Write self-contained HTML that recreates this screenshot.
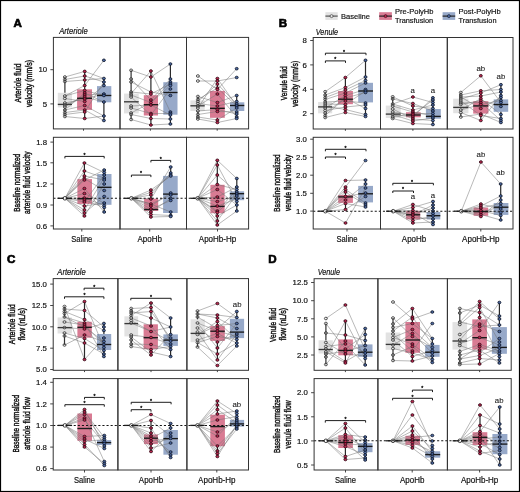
<!DOCTYPE html>
<html><head><meta charset="utf-8"><style>
html,body{margin:0;padding:0;background:#fff;}
svg{display:block;will-change:transform;}
</style></head><body>
<svg width="520" height="492" viewBox="0 0 520 492" font-family='"Liberation Sans", sans-serif'><rect x="0" y="0" width="520" height="492" fill="#fff"/><rect x="57.80" y="92.80" width="14.20" height="14.60" fill="#e2e2e2"/><rect x="77.10" y="89.30" width="14.90" height="20.60" fill="#d97b93"/><rect x="97.00" y="86.10" width="14.30" height="16.20" fill="#97a9c9"/><path d="M64.9,77.0L84.7,71.4L103.9,78.5M64.9,79.5L84.7,76.0L103.9,82.0M64.9,81.5L84.7,80.0L103.9,78.5M64.9,96.0L84.7,85.5L103.9,60.3M64.9,96.0L84.7,90.5L103.9,95.5M64.9,98.5L84.7,101.5L103.9,85.5M64.9,103.0L84.7,99.0L103.9,94.0M64.9,105.0L84.7,97.0L103.9,102.0M64.9,107.0L84.7,95.0L103.9,94.0M64.9,110.0L84.7,93.0L103.9,102.0M64.9,110.0L84.7,105.5L103.9,116.0M64.9,112.5L84.7,110.0L103.9,120.5M64.9,114.5L84.7,112.0L103.9,82.0M64.9,116.5L84.7,118.5L103.9,116.0" fill="none" stroke="#747474" stroke-width="0.6" stroke-opacity="0.85"/><line x1="64.90" y1="77.00" x2="64.90" y2="92.80" stroke="#333" stroke-width="1.2" /><line x1="64.90" y1="107.40" x2="64.90" y2="116.50" stroke="#333" stroke-width="1.2" /><line x1="57.80" y1="104.40" x2="72.00" y2="104.40" stroke="#3a3a3a" stroke-width="1.35" /><line x1="84.70" y1="71.40" x2="84.70" y2="89.30" stroke="#2a2a2a" stroke-width="1.2" /><line x1="84.70" y1="109.90" x2="84.70" y2="118.50" stroke="#2a2a2a" stroke-width="1.2" /><line x1="77.10" y1="98.30" x2="92.00" y2="98.30" stroke="#1a1a1a" stroke-width="1.35" /><line x1="103.90" y1="78.50" x2="103.90" y2="86.10" stroke="#2a2a2a" stroke-width="1.2" /><line x1="103.90" y1="102.30" x2="103.90" y2="120.50" stroke="#2a2a2a" stroke-width="1.2" /><line x1="97.00" y1="95.50" x2="111.30" y2="95.50" stroke="#1a1a1a" stroke-width="1.35" /><ellipse cx="64.90" cy="77.00" rx="1.5" ry="1.32" fill="#e6e6e6" fill-opacity="0.25" stroke="#2e2e2e" stroke-width="0.8"/><ellipse cx="64.90" cy="79.50" rx="1.5" ry="1.32" fill="#e6e6e6" fill-opacity="0.25" stroke="#2e2e2e" stroke-width="0.8"/><ellipse cx="64.90" cy="81.50" rx="1.5" ry="1.32" fill="#e6e6e6" fill-opacity="0.25" stroke="#2e2e2e" stroke-width="0.8"/><ellipse cx="64.90" cy="96.00" rx="1.5" ry="1.32" fill="#e6e6e6" fill-opacity="0.25" stroke="#2e2e2e" stroke-width="0.8"/><ellipse cx="64.90" cy="98.50" rx="1.5" ry="1.32" fill="#e6e6e6" fill-opacity="0.25" stroke="#2e2e2e" stroke-width="0.8"/><ellipse cx="64.90" cy="103.00" rx="1.5" ry="1.32" fill="#e6e6e6" fill-opacity="0.25" stroke="#2e2e2e" stroke-width="0.8"/><ellipse cx="64.90" cy="105.00" rx="1.5" ry="1.32" fill="#e6e6e6" fill-opacity="0.25" stroke="#2e2e2e" stroke-width="0.8"/><ellipse cx="64.90" cy="107.00" rx="1.5" ry="1.32" fill="#e6e6e6" fill-opacity="0.25" stroke="#2e2e2e" stroke-width="0.8"/><ellipse cx="64.90" cy="110.00" rx="1.5" ry="1.32" fill="#e6e6e6" fill-opacity="0.25" stroke="#2e2e2e" stroke-width="0.8"/><ellipse cx="64.90" cy="112.50" rx="1.5" ry="1.32" fill="#e6e6e6" fill-opacity="0.25" stroke="#2e2e2e" stroke-width="0.8"/><ellipse cx="64.90" cy="114.50" rx="1.5" ry="1.32" fill="#e6e6e6" fill-opacity="0.25" stroke="#2e2e2e" stroke-width="0.8"/><ellipse cx="64.90" cy="116.50" rx="1.5" ry="1.32" fill="#e6e6e6" fill-opacity="0.25" stroke="#2e2e2e" stroke-width="0.8"/><ellipse cx="84.70" cy="71.40" rx="1.5" ry="1.32" fill="#bd2850" stroke="#2a0510" stroke-width="0.8"/><ellipse cx="84.70" cy="76.00" rx="1.5" ry="1.32" fill="#bd2850" stroke="#2a0510" stroke-width="0.8"/><ellipse cx="84.70" cy="80.00" rx="1.5" ry="1.32" fill="#bd2850" stroke="#2a0510" stroke-width="0.8"/><ellipse cx="84.70" cy="85.50" rx="1.5" ry="1.32" fill="#bd2850" stroke="#2a0510" stroke-width="0.8"/><ellipse cx="84.70" cy="90.50" rx="1.5" ry="1.32" fill="#bd2850" stroke="#2a0510" stroke-width="0.8"/><ellipse cx="84.70" cy="93.00" rx="1.5" ry="1.32" fill="#bd2850" stroke="#2a0510" stroke-width="0.8"/><ellipse cx="84.70" cy="95.00" rx="1.5" ry="1.32" fill="#bd2850" stroke="#2a0510" stroke-width="0.8"/><ellipse cx="84.70" cy="97.00" rx="1.5" ry="1.32" fill="#bd2850" stroke="#2a0510" stroke-width="0.8"/><ellipse cx="84.70" cy="99.00" rx="1.5" ry="1.32" fill="#bd2850" stroke="#2a0510" stroke-width="0.8"/><ellipse cx="84.70" cy="101.50" rx="1.5" ry="1.32" fill="#bd2850" stroke="#2a0510" stroke-width="0.8"/><ellipse cx="84.70" cy="105.50" rx="1.5" ry="1.32" fill="#bd2850" stroke="#2a0510" stroke-width="0.8"/><ellipse cx="84.70" cy="110.00" rx="1.5" ry="1.32" fill="#bd2850" stroke="#2a0510" stroke-width="0.8"/><ellipse cx="84.70" cy="112.00" rx="1.5" ry="1.32" fill="#bd2850" stroke="#2a0510" stroke-width="0.8"/><ellipse cx="84.70" cy="118.50" rx="1.5" ry="1.32" fill="#bd2850" stroke="#2a0510" stroke-width="0.8"/><ellipse cx="103.90" cy="60.30" rx="1.5" ry="1.32" fill="#4d69a0" stroke="#0a1225" stroke-width="0.8"/><ellipse cx="103.90" cy="78.50" rx="1.5" ry="1.32" fill="#4d69a0" stroke="#0a1225" stroke-width="0.8"/><ellipse cx="103.90" cy="82.00" rx="1.5" ry="1.32" fill="#4d69a0" stroke="#0a1225" stroke-width="0.8"/><ellipse cx="103.90" cy="85.50" rx="1.5" ry="1.32" fill="#4d69a0" stroke="#0a1225" stroke-width="0.8"/><ellipse cx="103.90" cy="94.00" rx="1.5" ry="1.32" fill="#4d69a0" stroke="#0a1225" stroke-width="0.8"/><ellipse cx="103.90" cy="95.50" rx="1.5" ry="1.32" fill="#4d69a0" stroke="#0a1225" stroke-width="0.8"/><ellipse cx="103.90" cy="102.00" rx="1.5" ry="1.32" fill="#4d69a0" stroke="#0a1225" stroke-width="0.8"/><ellipse cx="103.90" cy="116.00" rx="1.5" ry="1.32" fill="#4d69a0" stroke="#0a1225" stroke-width="0.8"/><ellipse cx="103.90" cy="120.50" rx="1.5" ry="1.32" fill="#4d69a0" stroke="#0a1225" stroke-width="0.8"/><rect x="124.00" y="93.60" width="14.70" height="19.80" fill="#e2e2e2"/><rect x="143.80" y="95.20" width="14.20" height="20.30" fill="#d97b93"/><rect x="163.30" y="82.20" width="14.20" height="32.50" fill="#97a9c9"/><path d="M131.1,70.3L150.9,77.0L170.4,64.0M131.1,79.0L150.9,100.0L170.4,79.0M131.1,82.0L150.9,92.0L170.4,95.5M131.1,92.0L150.9,94.0L170.4,84.0M131.1,93.5L150.9,71.0L170.4,112.0M131.1,95.0L150.9,102.5L170.4,85.5M131.1,97.0L150.9,115.0L170.4,89.0M131.1,106.0L150.9,105.0L170.4,115.0M131.1,108.0L150.9,113.5L170.4,113.5M131.1,113.0L150.9,102.5L170.4,82.0M131.1,114.5L150.9,118.5L170.4,119.0M131.1,119.5L150.9,125.0L170.4,124.0" fill="none" stroke="#747474" stroke-width="0.6" stroke-opacity="0.85"/><line x1="131.10" y1="70.30" x2="131.10" y2="93.60" stroke="#333" stroke-width="1.2" /><line x1="131.10" y1="113.40" x2="131.10" y2="119.50" stroke="#333" stroke-width="1.2" /><line x1="124.00" y1="101.80" x2="138.70" y2="101.80" stroke="#3a3a3a" stroke-width="1.35" /><line x1="150.90" y1="71.00" x2="150.90" y2="95.20" stroke="#2a2a2a" stroke-width="1.2" /><line x1="150.90" y1="115.50" x2="150.90" y2="125.00" stroke="#2a2a2a" stroke-width="1.2" /><line x1="143.80" y1="104.70" x2="158.00" y2="104.70" stroke="#1a1a1a" stroke-width="1.35" /><line x1="170.40" y1="64.00" x2="170.40" y2="82.20" stroke="#2a2a2a" stroke-width="1.2" /><line x1="170.40" y1="114.70" x2="170.40" y2="124.00" stroke="#2a2a2a" stroke-width="1.2" /><line x1="163.30" y1="92.50" x2="177.50" y2="92.50" stroke="#1a1a1a" stroke-width="1.35" /><ellipse cx="131.10" cy="70.30" rx="1.5" ry="1.32" fill="#e6e6e6" fill-opacity="0.25" stroke="#2e2e2e" stroke-width="0.8"/><ellipse cx="131.10" cy="79.00" rx="1.5" ry="1.32" fill="#e6e6e6" fill-opacity="0.25" stroke="#2e2e2e" stroke-width="0.8"/><ellipse cx="131.10" cy="82.00" rx="1.5" ry="1.32" fill="#e6e6e6" fill-opacity="0.25" stroke="#2e2e2e" stroke-width="0.8"/><ellipse cx="131.10" cy="92.00" rx="1.5" ry="1.32" fill="#e6e6e6" fill-opacity="0.25" stroke="#2e2e2e" stroke-width="0.8"/><ellipse cx="131.10" cy="93.50" rx="1.5" ry="1.32" fill="#e6e6e6" fill-opacity="0.25" stroke="#2e2e2e" stroke-width="0.8"/><ellipse cx="131.10" cy="95.00" rx="1.5" ry="1.32" fill="#e6e6e6" fill-opacity="0.25" stroke="#2e2e2e" stroke-width="0.8"/><ellipse cx="131.10" cy="97.00" rx="1.5" ry="1.32" fill="#e6e6e6" fill-opacity="0.25" stroke="#2e2e2e" stroke-width="0.8"/><ellipse cx="131.10" cy="106.00" rx="1.5" ry="1.32" fill="#e6e6e6" fill-opacity="0.25" stroke="#2e2e2e" stroke-width="0.8"/><ellipse cx="131.10" cy="108.00" rx="1.5" ry="1.32" fill="#e6e6e6" fill-opacity="0.25" stroke="#2e2e2e" stroke-width="0.8"/><ellipse cx="131.10" cy="113.00" rx="1.5" ry="1.32" fill="#e6e6e6" fill-opacity="0.25" stroke="#2e2e2e" stroke-width="0.8"/><ellipse cx="131.10" cy="114.50" rx="1.5" ry="1.32" fill="#e6e6e6" fill-opacity="0.25" stroke="#2e2e2e" stroke-width="0.8"/><ellipse cx="131.10" cy="119.50" rx="1.5" ry="1.32" fill="#e6e6e6" fill-opacity="0.25" stroke="#2e2e2e" stroke-width="0.8"/><ellipse cx="150.90" cy="71.00" rx="1.5" ry="1.32" fill="#bd2850" stroke="#2a0510" stroke-width="0.8"/><ellipse cx="150.90" cy="77.00" rx="1.5" ry="1.32" fill="#bd2850" stroke="#2a0510" stroke-width="0.8"/><ellipse cx="150.90" cy="92.00" rx="1.5" ry="1.32" fill="#bd2850" stroke="#2a0510" stroke-width="0.8"/><ellipse cx="150.90" cy="94.00" rx="1.5" ry="1.32" fill="#bd2850" stroke="#2a0510" stroke-width="0.8"/><ellipse cx="150.90" cy="100.00" rx="1.5" ry="1.32" fill="#bd2850" stroke="#2a0510" stroke-width="0.8"/><ellipse cx="150.90" cy="102.50" rx="1.5" ry="1.32" fill="#bd2850" stroke="#2a0510" stroke-width="0.8"/><ellipse cx="150.90" cy="105.00" rx="1.5" ry="1.32" fill="#bd2850" stroke="#2a0510" stroke-width="0.8"/><ellipse cx="150.90" cy="113.50" rx="1.5" ry="1.32" fill="#bd2850" stroke="#2a0510" stroke-width="0.8"/><ellipse cx="150.90" cy="115.00" rx="1.5" ry="1.32" fill="#bd2850" stroke="#2a0510" stroke-width="0.8"/><ellipse cx="150.90" cy="118.50" rx="1.5" ry="1.32" fill="#bd2850" stroke="#2a0510" stroke-width="0.8"/><ellipse cx="150.90" cy="125.00" rx="1.5" ry="1.32" fill="#bd2850" stroke="#2a0510" stroke-width="0.8"/><ellipse cx="170.40" cy="64.00" rx="1.5" ry="1.32" fill="#4d69a0" stroke="#0a1225" stroke-width="0.8"/><ellipse cx="170.40" cy="79.00" rx="1.5" ry="1.32" fill="#4d69a0" stroke="#0a1225" stroke-width="0.8"/><ellipse cx="170.40" cy="82.00" rx="1.5" ry="1.32" fill="#4d69a0" stroke="#0a1225" stroke-width="0.8"/><ellipse cx="170.40" cy="84.00" rx="1.5" ry="1.32" fill="#4d69a0" stroke="#0a1225" stroke-width="0.8"/><ellipse cx="170.40" cy="85.50" rx="1.5" ry="1.32" fill="#4d69a0" stroke="#0a1225" stroke-width="0.8"/><ellipse cx="170.40" cy="89.00" rx="1.5" ry="1.32" fill="#4d69a0" stroke="#0a1225" stroke-width="0.8"/><ellipse cx="170.40" cy="95.50" rx="1.5" ry="1.32" fill="#4d69a0" stroke="#0a1225" stroke-width="0.8"/><ellipse cx="170.40" cy="112.00" rx="1.5" ry="1.32" fill="#4d69a0" stroke="#0a1225" stroke-width="0.8"/><ellipse cx="170.40" cy="113.50" rx="1.5" ry="1.32" fill="#4d69a0" stroke="#0a1225" stroke-width="0.8"/><ellipse cx="170.40" cy="115.00" rx="1.5" ry="1.32" fill="#4d69a0" stroke="#0a1225" stroke-width="0.8"/><ellipse cx="170.40" cy="119.00" rx="1.5" ry="1.32" fill="#4d69a0" stroke="#0a1225" stroke-width="0.8"/><ellipse cx="170.40" cy="124.00" rx="1.5" ry="1.32" fill="#4d69a0" stroke="#0a1225" stroke-width="0.8"/><rect x="190.40" y="100.40" width="14.30" height="10.60" fill="#e2e2e2"/><rect x="210.00" y="90.90" width="14.80" height="26.90" fill="#d97b93"/><rect x="230.00" y="102.30" width="14.30" height="8.70" fill="#97a9c9"/><path d="M197.9,76.0L217.4,89.5L236.7,68.7M197.9,81.0L217.4,81.0L236.7,77.5M197.9,96.5L217.4,102.5L236.7,95.5M197.9,99.5L217.4,88.0L236.7,106.0M197.9,101.5L217.4,84.0L236.7,104.0M197.9,103.5L217.4,106.0L236.7,101.5M197.9,106.0L217.4,94.0L236.7,117.0M197.9,108.0L217.4,78.5L236.7,106.0M197.9,111.0L217.4,109.5L236.7,114.0M197.9,114.5L217.4,111.5L236.7,112.0M197.9,117.0L217.4,120.0L236.7,108.0M197.9,119.0L217.4,122.5L236.7,118.5" fill="none" stroke="#747474" stroke-width="0.6" stroke-opacity="0.85"/><line x1="197.90" y1="96.50" x2="197.90" y2="100.40" stroke="#333" stroke-width="1.2" /><line x1="197.90" y1="111.00" x2="197.90" y2="119.00" stroke="#333" stroke-width="1.2" /><line x1="190.40" y1="105.80" x2="204.70" y2="105.80" stroke="#3a3a3a" stroke-width="1.35" /><line x1="217.40" y1="78.50" x2="217.40" y2="90.90" stroke="#2a2a2a" stroke-width="1.2" /><line x1="217.40" y1="117.80" x2="217.40" y2="122.50" stroke="#2a2a2a" stroke-width="1.2" /><line x1="210.00" y1="108.30" x2="224.80" y2="108.30" stroke="#1a1a1a" stroke-width="1.35" /><line x1="236.70" y1="95.50" x2="236.70" y2="102.30" stroke="#2a2a2a" stroke-width="1.2" /><line x1="236.70" y1="111.00" x2="236.70" y2="118.50" stroke="#2a2a2a" stroke-width="1.2" /><line x1="230.00" y1="105.50" x2="244.30" y2="105.50" stroke="#1a1a1a" stroke-width="1.35" /><ellipse cx="197.90" cy="76.00" rx="1.5" ry="1.32" fill="#e6e6e6" fill-opacity="0.25" stroke="#2e2e2e" stroke-width="0.8"/><ellipse cx="197.90" cy="81.00" rx="1.5" ry="1.32" fill="#e6e6e6" fill-opacity="0.25" stroke="#2e2e2e" stroke-width="0.8"/><ellipse cx="197.90" cy="96.50" rx="1.5" ry="1.32" fill="#e6e6e6" fill-opacity="0.25" stroke="#2e2e2e" stroke-width="0.8"/><ellipse cx="197.90" cy="99.50" rx="1.5" ry="1.32" fill="#e6e6e6" fill-opacity="0.25" stroke="#2e2e2e" stroke-width="0.8"/><ellipse cx="197.90" cy="101.50" rx="1.5" ry="1.32" fill="#e6e6e6" fill-opacity="0.25" stroke="#2e2e2e" stroke-width="0.8"/><ellipse cx="197.90" cy="103.50" rx="1.5" ry="1.32" fill="#e6e6e6" fill-opacity="0.25" stroke="#2e2e2e" stroke-width="0.8"/><ellipse cx="197.90" cy="106.00" rx="1.5" ry="1.32" fill="#e6e6e6" fill-opacity="0.25" stroke="#2e2e2e" stroke-width="0.8"/><ellipse cx="197.90" cy="108.00" rx="1.5" ry="1.32" fill="#e6e6e6" fill-opacity="0.25" stroke="#2e2e2e" stroke-width="0.8"/><ellipse cx="197.90" cy="111.00" rx="1.5" ry="1.32" fill="#e6e6e6" fill-opacity="0.25" stroke="#2e2e2e" stroke-width="0.8"/><ellipse cx="197.90" cy="114.50" rx="1.5" ry="1.32" fill="#e6e6e6" fill-opacity="0.25" stroke="#2e2e2e" stroke-width="0.8"/><ellipse cx="197.90" cy="117.00" rx="1.5" ry="1.32" fill="#e6e6e6" fill-opacity="0.25" stroke="#2e2e2e" stroke-width="0.8"/><ellipse cx="197.90" cy="119.00" rx="1.5" ry="1.32" fill="#e6e6e6" fill-opacity="0.25" stroke="#2e2e2e" stroke-width="0.8"/><ellipse cx="217.40" cy="78.50" rx="1.5" ry="1.32" fill="#bd2850" stroke="#2a0510" stroke-width="0.8"/><ellipse cx="217.40" cy="81.00" rx="1.5" ry="1.32" fill="#bd2850" stroke="#2a0510" stroke-width="0.8"/><ellipse cx="217.40" cy="84.00" rx="1.5" ry="1.32" fill="#bd2850" stroke="#2a0510" stroke-width="0.8"/><ellipse cx="217.40" cy="88.00" rx="1.5" ry="1.32" fill="#bd2850" stroke="#2a0510" stroke-width="0.8"/><ellipse cx="217.40" cy="89.50" rx="1.5" ry="1.32" fill="#bd2850" stroke="#2a0510" stroke-width="0.8"/><ellipse cx="217.40" cy="94.00" rx="1.5" ry="1.32" fill="#bd2850" stroke="#2a0510" stroke-width="0.8"/><ellipse cx="217.40" cy="102.50" rx="1.5" ry="1.32" fill="#bd2850" stroke="#2a0510" stroke-width="0.8"/><ellipse cx="217.40" cy="106.00" rx="1.5" ry="1.32" fill="#bd2850" stroke="#2a0510" stroke-width="0.8"/><ellipse cx="217.40" cy="109.50" rx="1.5" ry="1.32" fill="#bd2850" stroke="#2a0510" stroke-width="0.8"/><ellipse cx="217.40" cy="111.50" rx="1.5" ry="1.32" fill="#bd2850" stroke="#2a0510" stroke-width="0.8"/><ellipse cx="217.40" cy="120.00" rx="1.5" ry="1.32" fill="#bd2850" stroke="#2a0510" stroke-width="0.8"/><ellipse cx="217.40" cy="122.50" rx="1.5" ry="1.32" fill="#bd2850" stroke="#2a0510" stroke-width="0.8"/><ellipse cx="236.70" cy="68.70" rx="1.5" ry="1.32" fill="#4d69a0" stroke="#0a1225" stroke-width="0.8"/><ellipse cx="236.70" cy="77.50" rx="1.5" ry="1.32" fill="#4d69a0" stroke="#0a1225" stroke-width="0.8"/><ellipse cx="236.70" cy="95.50" rx="1.5" ry="1.32" fill="#4d69a0" stroke="#0a1225" stroke-width="0.8"/><ellipse cx="236.70" cy="101.50" rx="1.5" ry="1.32" fill="#4d69a0" stroke="#0a1225" stroke-width="0.8"/><ellipse cx="236.70" cy="104.00" rx="1.5" ry="1.32" fill="#4d69a0" stroke="#0a1225" stroke-width="0.8"/><ellipse cx="236.70" cy="106.00" rx="1.5" ry="1.32" fill="#4d69a0" stroke="#0a1225" stroke-width="0.8"/><ellipse cx="236.70" cy="108.00" rx="1.5" ry="1.32" fill="#4d69a0" stroke="#0a1225" stroke-width="0.8"/><ellipse cx="236.70" cy="112.00" rx="1.5" ry="1.32" fill="#4d69a0" stroke="#0a1225" stroke-width="0.8"/><ellipse cx="236.70" cy="114.00" rx="1.5" ry="1.32" fill="#4d69a0" stroke="#0a1225" stroke-width="0.8"/><ellipse cx="236.70" cy="117.00" rx="1.5" ry="1.32" fill="#4d69a0" stroke="#0a1225" stroke-width="0.8"/><ellipse cx="236.70" cy="118.50" rx="1.5" ry="1.32" fill="#4d69a0" stroke="#0a1225" stroke-width="0.8"/><rect x="77.40" y="179.10" width="14.60" height="24.80" fill="#d97b93"/><rect x="97.20" y="174.00" width="14.30" height="30.80" fill="#97a9c9"/><path d="M64.9,198.3L84.4,163.0L104.2,172.5M64.9,198.3L84.4,171.0L104.2,178.0M64.9,198.3L84.4,176.0L104.2,180.0M64.9,198.3L84.4,178.5L104.2,190.5M64.9,198.3L84.4,180.0L104.2,170.0M64.9,198.3L84.4,202.0L104.2,175.0M64.9,198.3L84.4,210.0L104.2,178.0M64.9,198.3L84.4,216.0L104.2,184.0M64.9,198.3L84.4,213.0L104.2,196.5M64.9,198.3L84.4,193.5L104.2,203.0M64.9,198.3L84.4,206.0L104.2,203.0M64.9,198.3L84.4,198.0L104.2,205.5M64.9,198.3L84.4,200.0L104.2,207.5M64.9,198.3L84.4,188.5L104.2,212.0" fill="none" stroke="#747474" stroke-width="0.6" stroke-opacity="0.85"/><line x1="84.40" y1="163.00" x2="84.40" y2="179.10" stroke="#2a2a2a" stroke-width="1.2" /><line x1="84.40" y1="203.90" x2="84.40" y2="216.00" stroke="#2a2a2a" stroke-width="1.2" /><line x1="77.40" y1="198.70" x2="92.00" y2="198.70" stroke="#1a1a1a" stroke-width="1.35" /><line x1="104.20" y1="170.00" x2="104.20" y2="174.00" stroke="#2a2a2a" stroke-width="1.2" /><line x1="104.20" y1="204.80" x2="104.20" y2="212.00" stroke="#2a2a2a" stroke-width="1.2" /><line x1="97.20" y1="187.30" x2="111.50" y2="187.30" stroke="#1a1a1a" stroke-width="1.35" /><line x1="57.70" y1="198.30" x2="72.10" y2="198.30" stroke="#222" stroke-width="1.3" /><circle cx="64.90" cy="198.30" r="1.8" fill="#fff" stroke="#222" stroke-width="0.85"/><ellipse cx="84.40" cy="163.00" rx="1.5" ry="1.32" fill="#bd2850" stroke="#2a0510" stroke-width="0.8"/><ellipse cx="84.40" cy="171.00" rx="1.5" ry="1.32" fill="#bd2850" stroke="#2a0510" stroke-width="0.8"/><ellipse cx="84.40" cy="176.00" rx="1.5" ry="1.32" fill="#bd2850" stroke="#2a0510" stroke-width="0.8"/><ellipse cx="84.40" cy="178.50" rx="1.5" ry="1.32" fill="#bd2850" stroke="#2a0510" stroke-width="0.8"/><ellipse cx="84.40" cy="180.00" rx="1.5" ry="1.32" fill="#bd2850" stroke="#2a0510" stroke-width="0.8"/><ellipse cx="84.40" cy="188.50" rx="1.5" ry="1.32" fill="#bd2850" stroke="#2a0510" stroke-width="0.8"/><ellipse cx="84.40" cy="193.50" rx="1.5" ry="1.32" fill="#bd2850" stroke="#2a0510" stroke-width="0.8"/><ellipse cx="84.40" cy="198.00" rx="1.5" ry="1.32" fill="#bd2850" stroke="#2a0510" stroke-width="0.8"/><ellipse cx="84.40" cy="200.00" rx="1.5" ry="1.32" fill="#bd2850" stroke="#2a0510" stroke-width="0.8"/><ellipse cx="84.40" cy="202.00" rx="1.5" ry="1.32" fill="#bd2850" stroke="#2a0510" stroke-width="0.8"/><ellipse cx="84.40" cy="206.00" rx="1.5" ry="1.32" fill="#bd2850" stroke="#2a0510" stroke-width="0.8"/><ellipse cx="84.40" cy="210.00" rx="1.5" ry="1.32" fill="#bd2850" stroke="#2a0510" stroke-width="0.8"/><ellipse cx="84.40" cy="213.00" rx="1.5" ry="1.32" fill="#bd2850" stroke="#2a0510" stroke-width="0.8"/><ellipse cx="84.40" cy="216.00" rx="1.5" ry="1.32" fill="#bd2850" stroke="#2a0510" stroke-width="0.8"/><ellipse cx="104.20" cy="170.00" rx="1.5" ry="1.32" fill="#4d69a0" stroke="#0a1225" stroke-width="0.8"/><ellipse cx="104.20" cy="172.50" rx="1.5" ry="1.32" fill="#4d69a0" stroke="#0a1225" stroke-width="0.8"/><ellipse cx="104.20" cy="175.00" rx="1.5" ry="1.32" fill="#4d69a0" stroke="#0a1225" stroke-width="0.8"/><ellipse cx="104.20" cy="178.00" rx="1.5" ry="1.32" fill="#4d69a0" stroke="#0a1225" stroke-width="0.8"/><ellipse cx="104.20" cy="180.00" rx="1.5" ry="1.32" fill="#4d69a0" stroke="#0a1225" stroke-width="0.8"/><ellipse cx="104.20" cy="184.00" rx="1.5" ry="1.32" fill="#4d69a0" stroke="#0a1225" stroke-width="0.8"/><ellipse cx="104.20" cy="190.50" rx="1.5" ry="1.32" fill="#4d69a0" stroke="#0a1225" stroke-width="0.8"/><ellipse cx="104.20" cy="196.50" rx="1.5" ry="1.32" fill="#4d69a0" stroke="#0a1225" stroke-width="0.8"/><ellipse cx="104.20" cy="203.00" rx="1.5" ry="1.32" fill="#4d69a0" stroke="#0a1225" stroke-width="0.8"/><ellipse cx="104.20" cy="205.50" rx="1.5" ry="1.32" fill="#4d69a0" stroke="#0a1225" stroke-width="0.8"/><ellipse cx="104.20" cy="207.50" rx="1.5" ry="1.32" fill="#4d69a0" stroke="#0a1225" stroke-width="0.8"/><ellipse cx="104.20" cy="212.00" rx="1.5" ry="1.32" fill="#4d69a0" stroke="#0a1225" stroke-width="0.8"/><path d="M64.90,158.40V156.40H104.20V158.40" fill="none" stroke="#111" stroke-width="0.95"/><text x="84.60" y="156.70" font-size="5.2" text-anchor="middle" font-weight="normal" font-style="normal" fill="#111" stroke="#111" stroke-width="0.3"  >*</text><rect x="144.10" y="198.70" width="14.10" height="12.20" fill="#d97b93"/><rect x="163.10" y="175.90" width="14.60" height="37.10" fill="#97a9c9"/><path d="M131.4,198.3L150.9,192.5L170.7,175.0M131.4,198.3L150.9,195.0L170.7,173.0M131.4,198.3L150.9,190.0L170.7,176.0M131.4,198.3L150.9,199.0L170.7,167.0M131.4,198.3L150.9,206.0L170.7,193.0M131.4,198.3L150.9,204.0L170.7,195.0M131.4,198.3L150.9,214.5L170.7,215.5M131.4,198.3L150.9,209.0L170.7,200.5M131.4,198.3L150.9,212.0L170.7,198.5M131.4,198.3L150.9,217.0L170.7,216.5M131.4,198.3L150.9,204.0L170.7,212.0" fill="none" stroke="#747474" stroke-width="0.6" stroke-opacity="0.85"/><line x1="150.90" y1="190.00" x2="150.90" y2="198.70" stroke="#2a2a2a" stroke-width="1.2" /><line x1="150.90" y1="210.90" x2="150.90" y2="217.00" stroke="#2a2a2a" stroke-width="1.2" /><line x1="144.10" y1="209.50" x2="158.20" y2="209.50" stroke="#1a1a1a" stroke-width="1.35" /><line x1="170.70" y1="167.00" x2="170.70" y2="175.90" stroke="#2a2a2a" stroke-width="1.2" /><line x1="170.70" y1="213.00" x2="170.70" y2="216.50" stroke="#2a2a2a" stroke-width="1.2" /><line x1="163.10" y1="194.10" x2="177.70" y2="194.10" stroke="#1a1a1a" stroke-width="1.35" /><line x1="124.20" y1="198.30" x2="138.60" y2="198.30" stroke="#222" stroke-width="1.3" /><circle cx="131.40" cy="198.30" r="1.8" fill="#fff" stroke="#222" stroke-width="0.85"/><ellipse cx="150.90" cy="190.00" rx="1.5" ry="1.32" fill="#bd2850" stroke="#2a0510" stroke-width="0.8"/><ellipse cx="150.90" cy="192.50" rx="1.5" ry="1.32" fill="#bd2850" stroke="#2a0510" stroke-width="0.8"/><ellipse cx="150.90" cy="195.00" rx="1.5" ry="1.32" fill="#bd2850" stroke="#2a0510" stroke-width="0.8"/><ellipse cx="150.90" cy="199.00" rx="1.5" ry="1.32" fill="#bd2850" stroke="#2a0510" stroke-width="0.8"/><ellipse cx="150.90" cy="204.00" rx="1.5" ry="1.32" fill="#bd2850" stroke="#2a0510" stroke-width="0.8"/><ellipse cx="150.90" cy="206.00" rx="1.5" ry="1.32" fill="#bd2850" stroke="#2a0510" stroke-width="0.8"/><ellipse cx="150.90" cy="209.00" rx="1.5" ry="1.32" fill="#bd2850" stroke="#2a0510" stroke-width="0.8"/><ellipse cx="150.90" cy="212.00" rx="1.5" ry="1.32" fill="#bd2850" stroke="#2a0510" stroke-width="0.8"/><ellipse cx="150.90" cy="214.50" rx="1.5" ry="1.32" fill="#bd2850" stroke="#2a0510" stroke-width="0.8"/><ellipse cx="150.90" cy="217.00" rx="1.5" ry="1.32" fill="#bd2850" stroke="#2a0510" stroke-width="0.8"/><ellipse cx="170.70" cy="167.00" rx="1.5" ry="1.32" fill="#4d69a0" stroke="#0a1225" stroke-width="0.8"/><ellipse cx="170.70" cy="173.00" rx="1.5" ry="1.32" fill="#4d69a0" stroke="#0a1225" stroke-width="0.8"/><ellipse cx="170.70" cy="175.00" rx="1.5" ry="1.32" fill="#4d69a0" stroke="#0a1225" stroke-width="0.8"/><ellipse cx="170.70" cy="176.00" rx="1.5" ry="1.32" fill="#4d69a0" stroke="#0a1225" stroke-width="0.8"/><ellipse cx="170.70" cy="193.00" rx="1.5" ry="1.32" fill="#4d69a0" stroke="#0a1225" stroke-width="0.8"/><ellipse cx="170.70" cy="195.00" rx="1.5" ry="1.32" fill="#4d69a0" stroke="#0a1225" stroke-width="0.8"/><ellipse cx="170.70" cy="198.50" rx="1.5" ry="1.32" fill="#4d69a0" stroke="#0a1225" stroke-width="0.8"/><ellipse cx="170.70" cy="200.50" rx="1.5" ry="1.32" fill="#4d69a0" stroke="#0a1225" stroke-width="0.8"/><ellipse cx="170.70" cy="212.00" rx="1.5" ry="1.32" fill="#4d69a0" stroke="#0a1225" stroke-width="0.8"/><ellipse cx="170.70" cy="215.50" rx="1.5" ry="1.32" fill="#4d69a0" stroke="#0a1225" stroke-width="0.8"/><ellipse cx="170.70" cy="216.50" rx="1.5" ry="1.32" fill="#4d69a0" stroke="#0a1225" stroke-width="0.8"/><path d="M131.40,177.10V175.10H150.90V177.10" fill="none" stroke="#111" stroke-width="0.95"/><text x="141.10" y="175.40" font-size="5.2" text-anchor="middle" font-weight="normal" font-style="normal" fill="#111" stroke="#111" stroke-width="0.3"  >*</text><path d="M150.90,162.40V160.40H170.70V162.40" fill="none" stroke="#111" stroke-width="0.95"/><text x="160.70" y="160.70" font-size="5.2" text-anchor="middle" font-weight="normal" font-style="normal" fill="#111" stroke="#111" stroke-width="0.3"  >*</text><rect x="210.40" y="184.80" width="14.20" height="28.40" fill="#d97b93"/><rect x="229.80" y="191.30" width="14.30" height="8.90" fill="#97a9c9"/><path d="M197.7,198.3L217.3,160.3L236.8,178.5M197.7,198.3L217.3,197.0L236.8,187.0M197.7,198.3L217.3,165.0L236.8,201.5M197.7,198.3L217.3,201.5L236.8,196.0M197.7,198.3L217.3,175.0L236.8,192.0M197.7,198.3L217.3,211.0L236.8,189.5M197.7,198.3L217.3,184.5L236.8,189.5M197.7,198.3L217.3,206.0L236.8,199.0M197.7,198.3L217.3,189.5L236.8,205.0M197.7,198.3L217.3,212.5L236.8,194.0M197.7,198.3L217.3,216.0L236.8,205.0M197.7,198.3L217.3,221.0L236.8,194.0M197.7,198.3L217.3,225.0L236.8,211.0" fill="none" stroke="#747474" stroke-width="0.6" stroke-opacity="0.85"/><line x1="217.30" y1="160.30" x2="217.30" y2="184.80" stroke="#2a2a2a" stroke-width="1.2" /><line x1="217.30" y1="213.20" x2="217.30" y2="225.00" stroke="#2a2a2a" stroke-width="1.2" /><line x1="210.40" y1="206.40" x2="224.60" y2="206.40" stroke="#1a1a1a" stroke-width="1.35" /><line x1="236.80" y1="178.50" x2="236.80" y2="191.30" stroke="#2a2a2a" stroke-width="1.2" /><line x1="236.80" y1="200.20" x2="236.80" y2="211.00" stroke="#2a2a2a" stroke-width="1.2" /><line x1="229.80" y1="193.70" x2="244.10" y2="193.70" stroke="#1a1a1a" stroke-width="1.35" /><line x1="190.50" y1="198.30" x2="204.90" y2="198.30" stroke="#222" stroke-width="1.3" /><circle cx="197.70" cy="198.30" r="1.8" fill="#fff" stroke="#222" stroke-width="0.85"/><ellipse cx="217.30" cy="160.30" rx="1.5" ry="1.32" fill="#bd2850" stroke="#2a0510" stroke-width="0.8"/><ellipse cx="217.30" cy="165.00" rx="1.5" ry="1.32" fill="#bd2850" stroke="#2a0510" stroke-width="0.8"/><ellipse cx="217.30" cy="175.00" rx="1.5" ry="1.32" fill="#bd2850" stroke="#2a0510" stroke-width="0.8"/><ellipse cx="217.30" cy="184.50" rx="1.5" ry="1.32" fill="#bd2850" stroke="#2a0510" stroke-width="0.8"/><ellipse cx="217.30" cy="189.50" rx="1.5" ry="1.32" fill="#bd2850" stroke="#2a0510" stroke-width="0.8"/><ellipse cx="217.30" cy="197.00" rx="1.5" ry="1.32" fill="#bd2850" stroke="#2a0510" stroke-width="0.8"/><ellipse cx="217.30" cy="201.50" rx="1.5" ry="1.32" fill="#bd2850" stroke="#2a0510" stroke-width="0.8"/><ellipse cx="217.30" cy="206.00" rx="1.5" ry="1.32" fill="#bd2850" stroke="#2a0510" stroke-width="0.8"/><ellipse cx="217.30" cy="211.00" rx="1.5" ry="1.32" fill="#bd2850" stroke="#2a0510" stroke-width="0.8"/><ellipse cx="217.30" cy="212.50" rx="1.5" ry="1.32" fill="#bd2850" stroke="#2a0510" stroke-width="0.8"/><ellipse cx="217.30" cy="216.00" rx="1.5" ry="1.32" fill="#bd2850" stroke="#2a0510" stroke-width="0.8"/><ellipse cx="217.30" cy="221.00" rx="1.5" ry="1.32" fill="#bd2850" stroke="#2a0510" stroke-width="0.8"/><ellipse cx="217.30" cy="225.00" rx="1.5" ry="1.32" fill="#bd2850" stroke="#2a0510" stroke-width="0.8"/><ellipse cx="236.80" cy="178.50" rx="1.5" ry="1.32" fill="#4d69a0" stroke="#0a1225" stroke-width="0.8"/><ellipse cx="236.80" cy="187.00" rx="1.5" ry="1.32" fill="#4d69a0" stroke="#0a1225" stroke-width="0.8"/><ellipse cx="236.80" cy="189.50" rx="1.5" ry="1.32" fill="#4d69a0" stroke="#0a1225" stroke-width="0.8"/><ellipse cx="236.80" cy="192.00" rx="1.5" ry="1.32" fill="#4d69a0" stroke="#0a1225" stroke-width="0.8"/><ellipse cx="236.80" cy="194.00" rx="1.5" ry="1.32" fill="#4d69a0" stroke="#0a1225" stroke-width="0.8"/><ellipse cx="236.80" cy="196.00" rx="1.5" ry="1.32" fill="#4d69a0" stroke="#0a1225" stroke-width="0.8"/><ellipse cx="236.80" cy="199.00" rx="1.5" ry="1.32" fill="#4d69a0" stroke="#0a1225" stroke-width="0.8"/><ellipse cx="236.80" cy="201.50" rx="1.5" ry="1.32" fill="#4d69a0" stroke="#0a1225" stroke-width="0.8"/><ellipse cx="236.80" cy="205.00" rx="1.5" ry="1.32" fill="#4d69a0" stroke="#0a1225" stroke-width="0.8"/><ellipse cx="236.80" cy="211.00" rx="1.5" ry="1.32" fill="#4d69a0" stroke="#0a1225" stroke-width="0.8"/><rect x="318.10" y="102.00" width="14.10" height="11.30" fill="#e2e2e2"/><rect x="338.00" y="91.00" width="14.90" height="13.20" fill="#d97b93"/><rect x="358.20" y="82.80" width="14.80" height="19.60" fill="#97a9c9"/><path d="M325.2,91.7L345.4,77.5L365.5,60.3M325.2,95.0L345.4,87.5L365.5,77.0M325.2,97.5L345.4,90.0L365.5,80.5M325.2,99.5L345.4,93.0L365.5,83.0M325.2,102.0L345.4,101.0L365.5,103.0M325.2,104.0L345.4,104.5L365.5,91.0M325.2,106.0L345.4,109.5L365.5,114.5M325.2,108.0L345.4,95.5L365.5,89.5M325.2,110.5L345.4,107.0L365.5,105.0M325.2,113.0L345.4,98.0L365.5,108.5M325.2,115.5L345.4,98.0L365.5,92.5M325.2,117.5L345.4,112.5L365.5,116.5" fill="none" stroke="#747474" stroke-width="0.6" stroke-opacity="0.85"/><line x1="325.20" y1="91.70" x2="325.20" y2="102.00" stroke="#333" stroke-width="1.2" /><line x1="325.20" y1="113.30" x2="325.20" y2="117.50" stroke="#333" stroke-width="1.2" /><line x1="318.10" y1="106.90" x2="332.20" y2="106.90" stroke="#3a3a3a" stroke-width="1.35" /><line x1="345.40" y1="77.50" x2="345.40" y2="91.00" stroke="#2a2a2a" stroke-width="1.2" /><line x1="345.40" y1="104.20" x2="345.40" y2="112.50" stroke="#2a2a2a" stroke-width="1.2" /><line x1="338.00" y1="99.20" x2="352.90" y2="99.20" stroke="#1a1a1a" stroke-width="1.35" /><line x1="365.50" y1="60.30" x2="365.50" y2="82.80" stroke="#2a2a2a" stroke-width="1.2" /><line x1="365.50" y1="102.40" x2="365.50" y2="116.50" stroke="#2a2a2a" stroke-width="1.2" /><line x1="358.20" y1="91.00" x2="373.00" y2="91.00" stroke="#1a1a1a" stroke-width="1.35" /><ellipse cx="325.20" cy="91.70" rx="1.5" ry="1.32" fill="#e6e6e6" fill-opacity="0.25" stroke="#2e2e2e" stroke-width="0.8"/><ellipse cx="325.20" cy="95.00" rx="1.5" ry="1.32" fill="#e6e6e6" fill-opacity="0.25" stroke="#2e2e2e" stroke-width="0.8"/><ellipse cx="325.20" cy="97.50" rx="1.5" ry="1.32" fill="#e6e6e6" fill-opacity="0.25" stroke="#2e2e2e" stroke-width="0.8"/><ellipse cx="325.20" cy="99.50" rx="1.5" ry="1.32" fill="#e6e6e6" fill-opacity="0.25" stroke="#2e2e2e" stroke-width="0.8"/><ellipse cx="325.20" cy="102.00" rx="1.5" ry="1.32" fill="#e6e6e6" fill-opacity="0.25" stroke="#2e2e2e" stroke-width="0.8"/><ellipse cx="325.20" cy="104.00" rx="1.5" ry="1.32" fill="#e6e6e6" fill-opacity="0.25" stroke="#2e2e2e" stroke-width="0.8"/><ellipse cx="325.20" cy="106.00" rx="1.5" ry="1.32" fill="#e6e6e6" fill-opacity="0.25" stroke="#2e2e2e" stroke-width="0.8"/><ellipse cx="325.20" cy="108.00" rx="1.5" ry="1.32" fill="#e6e6e6" fill-opacity="0.25" stroke="#2e2e2e" stroke-width="0.8"/><ellipse cx="325.20" cy="110.50" rx="1.5" ry="1.32" fill="#e6e6e6" fill-opacity="0.25" stroke="#2e2e2e" stroke-width="0.8"/><ellipse cx="325.20" cy="113.00" rx="1.5" ry="1.32" fill="#e6e6e6" fill-opacity="0.25" stroke="#2e2e2e" stroke-width="0.8"/><ellipse cx="325.20" cy="115.50" rx="1.5" ry="1.32" fill="#e6e6e6" fill-opacity="0.25" stroke="#2e2e2e" stroke-width="0.8"/><ellipse cx="325.20" cy="117.50" rx="1.5" ry="1.32" fill="#e6e6e6" fill-opacity="0.25" stroke="#2e2e2e" stroke-width="0.8"/><ellipse cx="345.40" cy="77.50" rx="1.5" ry="1.32" fill="#bd2850" stroke="#2a0510" stroke-width="0.8"/><ellipse cx="345.40" cy="87.50" rx="1.5" ry="1.32" fill="#bd2850" stroke="#2a0510" stroke-width="0.8"/><ellipse cx="345.40" cy="90.00" rx="1.5" ry="1.32" fill="#bd2850" stroke="#2a0510" stroke-width="0.8"/><ellipse cx="345.40" cy="93.00" rx="1.5" ry="1.32" fill="#bd2850" stroke="#2a0510" stroke-width="0.8"/><ellipse cx="345.40" cy="95.50" rx="1.5" ry="1.32" fill="#bd2850" stroke="#2a0510" stroke-width="0.8"/><ellipse cx="345.40" cy="98.00" rx="1.5" ry="1.32" fill="#bd2850" stroke="#2a0510" stroke-width="0.8"/><ellipse cx="345.40" cy="101.00" rx="1.5" ry="1.32" fill="#bd2850" stroke="#2a0510" stroke-width="0.8"/><ellipse cx="345.40" cy="104.50" rx="1.5" ry="1.32" fill="#bd2850" stroke="#2a0510" stroke-width="0.8"/><ellipse cx="345.40" cy="107.00" rx="1.5" ry="1.32" fill="#bd2850" stroke="#2a0510" stroke-width="0.8"/><ellipse cx="345.40" cy="109.50" rx="1.5" ry="1.32" fill="#bd2850" stroke="#2a0510" stroke-width="0.8"/><ellipse cx="345.40" cy="112.50" rx="1.5" ry="1.32" fill="#bd2850" stroke="#2a0510" stroke-width="0.8"/><ellipse cx="365.50" cy="60.30" rx="1.5" ry="1.32" fill="#4d69a0" stroke="#0a1225" stroke-width="0.8"/><ellipse cx="365.50" cy="77.00" rx="1.5" ry="1.32" fill="#4d69a0" stroke="#0a1225" stroke-width="0.8"/><ellipse cx="365.50" cy="80.50" rx="1.5" ry="1.32" fill="#4d69a0" stroke="#0a1225" stroke-width="0.8"/><ellipse cx="365.50" cy="83.00" rx="1.5" ry="1.32" fill="#4d69a0" stroke="#0a1225" stroke-width="0.8"/><ellipse cx="365.50" cy="89.50" rx="1.5" ry="1.32" fill="#4d69a0" stroke="#0a1225" stroke-width="0.8"/><ellipse cx="365.50" cy="91.00" rx="1.5" ry="1.32" fill="#4d69a0" stroke="#0a1225" stroke-width="0.8"/><ellipse cx="365.50" cy="92.50" rx="1.5" ry="1.32" fill="#4d69a0" stroke="#0a1225" stroke-width="0.8"/><ellipse cx="365.50" cy="103.00" rx="1.5" ry="1.32" fill="#4d69a0" stroke="#0a1225" stroke-width="0.8"/><ellipse cx="365.50" cy="105.00" rx="1.5" ry="1.32" fill="#4d69a0" stroke="#0a1225" stroke-width="0.8"/><ellipse cx="365.50" cy="108.50" rx="1.5" ry="1.32" fill="#4d69a0" stroke="#0a1225" stroke-width="0.8"/><ellipse cx="365.50" cy="114.50" rx="1.5" ry="1.32" fill="#4d69a0" stroke="#0a1225" stroke-width="0.8"/><ellipse cx="365.50" cy="116.50" rx="1.5" ry="1.32" fill="#4d69a0" stroke="#0a1225" stroke-width="0.8"/><path d="M325.40,55.20V53.20H366.00V55.20" fill="none" stroke="#111" stroke-width="0.95"/><text x="344.00" y="53.50" font-size="5.2" text-anchor="middle" font-weight="normal" font-style="normal" fill="#111" stroke="#111" stroke-width="0.3"  >*</text><path d="M325.40,62.90V60.90H345.50V62.90" fill="none" stroke="#111" stroke-width="0.95"/><text x="335.30" y="61.20" font-size="5.2" text-anchor="middle" font-weight="normal" font-style="normal" fill="#111" stroke="#111" stroke-width="0.3"  >*</text><rect x="385.80" y="105.60" width="14.90" height="12.40" fill="#e2e2e2"/><rect x="406.00" y="112.20" width="14.70" height="5.10" fill="#d97b93"/><rect x="425.90" y="109.00" width="14.90" height="9.70" fill="#97a9c9"/><path d="M392.7,96.8L412.9,106.0L432.9,108.5M392.7,99.0L412.9,103.5L432.9,111.0M392.7,104.0L412.9,97.0L432.9,102.5M392.7,104.0L412.9,110.0L432.9,105.0M392.7,106.0L412.9,112.0L432.9,116.0M392.7,109.0L412.9,119.0L432.9,120.5M392.7,112.0L412.9,115.0L432.9,100.0M392.7,114.5L412.9,117.0L432.9,97.8M392.7,114.5L412.9,121.0L432.9,118.0M392.7,117.0L412.9,113.5L432.9,113.5M392.7,118.5L412.9,123.5L432.9,124.5" fill="none" stroke="#747474" stroke-width="0.6" stroke-opacity="0.85"/><line x1="392.70" y1="96.80" x2="392.70" y2="105.60" stroke="#333" stroke-width="1.2" /><line x1="392.70" y1="118.00" x2="392.70" y2="118.50" stroke="#333" stroke-width="1.2" /><line x1="385.80" y1="114.10" x2="400.70" y2="114.10" stroke="#3a3a3a" stroke-width="1.35" /><line x1="412.90" y1="106.00" x2="412.90" y2="112.20" stroke="#2a2a2a" stroke-width="1.2" /><line x1="412.90" y1="117.30" x2="412.90" y2="123.50" stroke="#2a2a2a" stroke-width="1.2" /><line x1="406.00" y1="115.00" x2="420.70" y2="115.00" stroke="#1a1a1a" stroke-width="1.35" /><line x1="432.90" y1="97.80" x2="432.90" y2="109.00" stroke="#2a2a2a" stroke-width="1.2" /><line x1="432.90" y1="118.70" x2="432.90" y2="124.50" stroke="#2a2a2a" stroke-width="1.2" /><line x1="425.90" y1="116.40" x2="440.80" y2="116.40" stroke="#1a1a1a" stroke-width="1.35" /><ellipse cx="392.70" cy="96.80" rx="1.5" ry="1.32" fill="#e6e6e6" fill-opacity="0.25" stroke="#2e2e2e" stroke-width="0.8"/><ellipse cx="392.70" cy="99.00" rx="1.5" ry="1.32" fill="#e6e6e6" fill-opacity="0.25" stroke="#2e2e2e" stroke-width="0.8"/><ellipse cx="392.70" cy="104.00" rx="1.5" ry="1.32" fill="#e6e6e6" fill-opacity="0.25" stroke="#2e2e2e" stroke-width="0.8"/><ellipse cx="392.70" cy="106.00" rx="1.5" ry="1.32" fill="#e6e6e6" fill-opacity="0.25" stroke="#2e2e2e" stroke-width="0.8"/><ellipse cx="392.70" cy="109.00" rx="1.5" ry="1.32" fill="#e6e6e6" fill-opacity="0.25" stroke="#2e2e2e" stroke-width="0.8"/><ellipse cx="392.70" cy="112.00" rx="1.5" ry="1.32" fill="#e6e6e6" fill-opacity="0.25" stroke="#2e2e2e" stroke-width="0.8"/><ellipse cx="392.70" cy="114.50" rx="1.5" ry="1.32" fill="#e6e6e6" fill-opacity="0.25" stroke="#2e2e2e" stroke-width="0.8"/><ellipse cx="392.70" cy="117.00" rx="1.5" ry="1.32" fill="#e6e6e6" fill-opacity="0.25" stroke="#2e2e2e" stroke-width="0.8"/><ellipse cx="392.70" cy="118.50" rx="1.5" ry="1.32" fill="#e6e6e6" fill-opacity="0.25" stroke="#2e2e2e" stroke-width="0.8"/><ellipse cx="412.90" cy="97.00" rx="1.5" ry="1.32" fill="#bd2850" stroke="#2a0510" stroke-width="0.8"/><ellipse cx="412.90" cy="103.50" rx="1.5" ry="1.32" fill="#bd2850" stroke="#2a0510" stroke-width="0.8"/><ellipse cx="412.90" cy="106.00" rx="1.5" ry="1.32" fill="#bd2850" stroke="#2a0510" stroke-width="0.8"/><ellipse cx="412.90" cy="110.00" rx="1.5" ry="1.32" fill="#bd2850" stroke="#2a0510" stroke-width="0.8"/><ellipse cx="412.90" cy="112.00" rx="1.5" ry="1.32" fill="#bd2850" stroke="#2a0510" stroke-width="0.8"/><ellipse cx="412.90" cy="113.50" rx="1.5" ry="1.32" fill="#bd2850" stroke="#2a0510" stroke-width="0.8"/><ellipse cx="412.90" cy="115.00" rx="1.5" ry="1.32" fill="#bd2850" stroke="#2a0510" stroke-width="0.8"/><ellipse cx="412.90" cy="117.00" rx="1.5" ry="1.32" fill="#bd2850" stroke="#2a0510" stroke-width="0.8"/><ellipse cx="412.90" cy="119.00" rx="1.5" ry="1.32" fill="#bd2850" stroke="#2a0510" stroke-width="0.8"/><ellipse cx="412.90" cy="121.00" rx="1.5" ry="1.32" fill="#bd2850" stroke="#2a0510" stroke-width="0.8"/><ellipse cx="412.90" cy="123.50" rx="1.5" ry="1.32" fill="#bd2850" stroke="#2a0510" stroke-width="0.8"/><ellipse cx="432.90" cy="97.80" rx="1.5" ry="1.32" fill="#4d69a0" stroke="#0a1225" stroke-width="0.8"/><ellipse cx="432.90" cy="100.00" rx="1.5" ry="1.32" fill="#4d69a0" stroke="#0a1225" stroke-width="0.8"/><ellipse cx="432.90" cy="102.50" rx="1.5" ry="1.32" fill="#4d69a0" stroke="#0a1225" stroke-width="0.8"/><ellipse cx="432.90" cy="105.00" rx="1.5" ry="1.32" fill="#4d69a0" stroke="#0a1225" stroke-width="0.8"/><ellipse cx="432.90" cy="108.50" rx="1.5" ry="1.32" fill="#4d69a0" stroke="#0a1225" stroke-width="0.8"/><ellipse cx="432.90" cy="111.00" rx="1.5" ry="1.32" fill="#4d69a0" stroke="#0a1225" stroke-width="0.8"/><ellipse cx="432.90" cy="113.50" rx="1.5" ry="1.32" fill="#4d69a0" stroke="#0a1225" stroke-width="0.8"/><ellipse cx="432.90" cy="116.00" rx="1.5" ry="1.32" fill="#4d69a0" stroke="#0a1225" stroke-width="0.8"/><ellipse cx="432.90" cy="118.00" rx="1.5" ry="1.32" fill="#4d69a0" stroke="#0a1225" stroke-width="0.8"/><ellipse cx="432.90" cy="120.50" rx="1.5" ry="1.32" fill="#4d69a0" stroke="#0a1225" stroke-width="0.8"/><ellipse cx="432.90" cy="124.50" rx="1.5" ry="1.32" fill="#4d69a0" stroke="#0a1225" stroke-width="0.8"/><text x="412.70" y="92.80" font-size="7.8" text-anchor="middle" font-weight="normal" font-style="normal" fill="#222" stroke="#222" stroke-width="0.1"  >a</text><text x="432.90" y="92.80" font-size="7.8" text-anchor="middle" font-weight="normal" font-style="normal" fill="#222" stroke="#222" stroke-width="0.1"  >a</text><rect x="453.20" y="98.70" width="15.20" height="14.50" fill="#e2e2e2"/><rect x="473.20" y="101.20" width="15.20" height="12.40" fill="#d97b93"/><rect x="493.70" y="99.40" width="14.50" height="12.40" fill="#97a9c9"/><path d="M460.8,92.5L480.8,75.8L500.9,102.5M460.8,95.0L480.8,90.8L500.9,89.5M460.8,97.0L480.8,108.5L500.9,97.5M460.8,97.0L480.8,96.0L500.9,92.0M460.8,99.0L480.8,93.0L500.9,84.7M460.8,101.0L480.8,115.5L500.9,118.5M460.8,103.0L480.8,102.5L500.9,120.5M460.8,104.5L480.8,100.5L500.9,106.5M460.8,110.0L480.8,98.5L500.9,114.5M460.8,110.0L480.8,104.5L500.9,100.5M460.8,112.5L480.8,120.5L500.9,95.5M460.8,117.0L480.8,114.0L500.9,122.5" fill="none" stroke="#747474" stroke-width="0.6" stroke-opacity="0.85"/><line x1="460.80" y1="92.50" x2="460.80" y2="98.70" stroke="#333" stroke-width="1.2" /><line x1="460.80" y1="113.20" x2="460.80" y2="117.00" stroke="#333" stroke-width="1.2" /><line x1="453.20" y1="107.40" x2="468.40" y2="107.40" stroke="#3a3a3a" stroke-width="1.35" /><line x1="480.80" y1="90.80" x2="480.80" y2="101.20" stroke="#2a2a2a" stroke-width="1.2" /><line x1="480.80" y1="113.60" x2="480.80" y2="120.50" stroke="#2a2a2a" stroke-width="1.2" /><line x1="473.20" y1="105.90" x2="488.40" y2="105.90" stroke="#1a1a1a" stroke-width="1.35" /><line x1="500.90" y1="84.70" x2="500.90" y2="99.40" stroke="#2a2a2a" stroke-width="1.2" /><line x1="500.90" y1="111.80" x2="500.90" y2="122.50" stroke="#2a2a2a" stroke-width="1.2" /><line x1="493.70" y1="104.50" x2="508.20" y2="104.50" stroke="#1a1a1a" stroke-width="1.35" /><ellipse cx="460.80" cy="92.50" rx="1.5" ry="1.32" fill="#e6e6e6" fill-opacity="0.25" stroke="#2e2e2e" stroke-width="0.8"/><ellipse cx="460.80" cy="95.00" rx="1.5" ry="1.32" fill="#e6e6e6" fill-opacity="0.25" stroke="#2e2e2e" stroke-width="0.8"/><ellipse cx="460.80" cy="97.00" rx="1.5" ry="1.32" fill="#e6e6e6" fill-opacity="0.25" stroke="#2e2e2e" stroke-width="0.8"/><ellipse cx="460.80" cy="99.00" rx="1.5" ry="1.32" fill="#e6e6e6" fill-opacity="0.25" stroke="#2e2e2e" stroke-width="0.8"/><ellipse cx="460.80" cy="101.00" rx="1.5" ry="1.32" fill="#e6e6e6" fill-opacity="0.25" stroke="#2e2e2e" stroke-width="0.8"/><ellipse cx="460.80" cy="103.00" rx="1.5" ry="1.32" fill="#e6e6e6" fill-opacity="0.25" stroke="#2e2e2e" stroke-width="0.8"/><ellipse cx="460.80" cy="104.50" rx="1.5" ry="1.32" fill="#e6e6e6" fill-opacity="0.25" stroke="#2e2e2e" stroke-width="0.8"/><ellipse cx="460.80" cy="110.00" rx="1.5" ry="1.32" fill="#e6e6e6" fill-opacity="0.25" stroke="#2e2e2e" stroke-width="0.8"/><ellipse cx="460.80" cy="112.50" rx="1.5" ry="1.32" fill="#e6e6e6" fill-opacity="0.25" stroke="#2e2e2e" stroke-width="0.8"/><ellipse cx="460.80" cy="117.00" rx="1.5" ry="1.32" fill="#e6e6e6" fill-opacity="0.25" stroke="#2e2e2e" stroke-width="0.8"/><ellipse cx="480.80" cy="75.80" rx="1.5" ry="1.32" fill="#bd2850" stroke="#2a0510" stroke-width="0.8"/><ellipse cx="480.80" cy="90.80" rx="1.5" ry="1.32" fill="#bd2850" stroke="#2a0510" stroke-width="0.8"/><ellipse cx="480.80" cy="93.00" rx="1.5" ry="1.32" fill="#bd2850" stroke="#2a0510" stroke-width="0.8"/><ellipse cx="480.80" cy="96.00" rx="1.5" ry="1.32" fill="#bd2850" stroke="#2a0510" stroke-width="0.8"/><ellipse cx="480.80" cy="98.50" rx="1.5" ry="1.32" fill="#bd2850" stroke="#2a0510" stroke-width="0.8"/><ellipse cx="480.80" cy="100.50" rx="1.5" ry="1.32" fill="#bd2850" stroke="#2a0510" stroke-width="0.8"/><ellipse cx="480.80" cy="102.50" rx="1.5" ry="1.32" fill="#bd2850" stroke="#2a0510" stroke-width="0.8"/><ellipse cx="480.80" cy="104.50" rx="1.5" ry="1.32" fill="#bd2850" stroke="#2a0510" stroke-width="0.8"/><ellipse cx="480.80" cy="108.50" rx="1.5" ry="1.32" fill="#bd2850" stroke="#2a0510" stroke-width="0.8"/><ellipse cx="480.80" cy="114.00" rx="1.5" ry="1.32" fill="#bd2850" stroke="#2a0510" stroke-width="0.8"/><ellipse cx="480.80" cy="115.50" rx="1.5" ry="1.32" fill="#bd2850" stroke="#2a0510" stroke-width="0.8"/><ellipse cx="480.80" cy="120.50" rx="1.5" ry="1.32" fill="#bd2850" stroke="#2a0510" stroke-width="0.8"/><ellipse cx="500.90" cy="84.70" rx="1.5" ry="1.32" fill="#4d69a0" stroke="#0a1225" stroke-width="0.8"/><ellipse cx="500.90" cy="89.50" rx="1.5" ry="1.32" fill="#4d69a0" stroke="#0a1225" stroke-width="0.8"/><ellipse cx="500.90" cy="92.00" rx="1.5" ry="1.32" fill="#4d69a0" stroke="#0a1225" stroke-width="0.8"/><ellipse cx="500.90" cy="95.50" rx="1.5" ry="1.32" fill="#4d69a0" stroke="#0a1225" stroke-width="0.8"/><ellipse cx="500.90" cy="97.50" rx="1.5" ry="1.32" fill="#4d69a0" stroke="#0a1225" stroke-width="0.8"/><ellipse cx="500.90" cy="100.50" rx="1.5" ry="1.32" fill="#4d69a0" stroke="#0a1225" stroke-width="0.8"/><ellipse cx="500.90" cy="102.50" rx="1.5" ry="1.32" fill="#4d69a0" stroke="#0a1225" stroke-width="0.8"/><ellipse cx="500.90" cy="106.50" rx="1.5" ry="1.32" fill="#4d69a0" stroke="#0a1225" stroke-width="0.8"/><ellipse cx="500.90" cy="114.50" rx="1.5" ry="1.32" fill="#4d69a0" stroke="#0a1225" stroke-width="0.8"/><ellipse cx="500.90" cy="118.50" rx="1.5" ry="1.32" fill="#4d69a0" stroke="#0a1225" stroke-width="0.8"/><ellipse cx="500.90" cy="120.50" rx="1.5" ry="1.32" fill="#4d69a0" stroke="#0a1225" stroke-width="0.8"/><ellipse cx="500.90" cy="122.50" rx="1.5" ry="1.32" fill="#4d69a0" stroke="#0a1225" stroke-width="0.8"/><text x="480.80" y="71.30" font-size="7.8" text-anchor="middle" font-weight="normal" font-style="normal" fill="#222" stroke="#222" stroke-width="0.1"  >ab</text><text x="500.90" y="79.30" font-size="7.8" text-anchor="middle" font-weight="normal" font-style="normal" fill="#222" stroke="#222" stroke-width="0.1"  >ab</text><rect x="338.20" y="195.00" width="14.70" height="7.90" fill="#d97b93"/><rect x="358.20" y="185.90" width="14.80" height="16.50" fill="#97a9c9"/><path d="M325.4,211.2L345.5,180.5L365.5,180.0M325.4,211.2L345.5,187.0L365.5,160.5M325.4,211.2L345.5,189.5L365.5,203.0M325.4,211.2L345.5,200.0L365.5,184.0M325.4,211.2L345.5,196.5L365.5,193.0M325.4,211.2L345.5,192.0L365.5,205.0M325.4,211.2L345.5,223.0L365.5,188.0M325.4,211.2L345.5,209.5L365.5,196.5M325.4,211.2L345.5,203.5L365.5,207.0" fill="none" stroke="#747474" stroke-width="0.6" stroke-opacity="0.85"/><line x1="345.50" y1="187.00" x2="345.50" y2="195.00" stroke="#2a2a2a" stroke-width="1.2" /><line x1="345.50" y1="202.90" x2="345.50" y2="209.50" stroke="#2a2a2a" stroke-width="1.2" /><line x1="338.20" y1="196.90" x2="352.90" y2="196.90" stroke="#1a1a1a" stroke-width="1.35" /><line x1="365.50" y1="180.00" x2="365.50" y2="185.90" stroke="#2a2a2a" stroke-width="1.2" /><line x1="365.50" y1="202.40" x2="365.50" y2="207.00" stroke="#2a2a2a" stroke-width="1.2" /><line x1="358.20" y1="193.80" x2="373.00" y2="193.80" stroke="#1a1a1a" stroke-width="1.35" /><line x1="318.20" y1="211.20" x2="332.60" y2="211.20" stroke="#222" stroke-width="1.3" /><circle cx="325.40" cy="211.20" r="1.8" fill="#fff" stroke="#222" stroke-width="0.85"/><ellipse cx="345.50" cy="180.50" rx="1.5" ry="1.32" fill="#bd2850" stroke="#2a0510" stroke-width="0.8"/><ellipse cx="345.50" cy="187.00" rx="1.5" ry="1.32" fill="#bd2850" stroke="#2a0510" stroke-width="0.8"/><ellipse cx="345.50" cy="189.50" rx="1.5" ry="1.32" fill="#bd2850" stroke="#2a0510" stroke-width="0.8"/><ellipse cx="345.50" cy="192.00" rx="1.5" ry="1.32" fill="#bd2850" stroke="#2a0510" stroke-width="0.8"/><ellipse cx="345.50" cy="196.50" rx="1.5" ry="1.32" fill="#bd2850" stroke="#2a0510" stroke-width="0.8"/><ellipse cx="345.50" cy="200.00" rx="1.5" ry="1.32" fill="#bd2850" stroke="#2a0510" stroke-width="0.8"/><ellipse cx="345.50" cy="203.50" rx="1.5" ry="1.32" fill="#bd2850" stroke="#2a0510" stroke-width="0.8"/><ellipse cx="345.50" cy="209.50" rx="1.5" ry="1.32" fill="#bd2850" stroke="#2a0510" stroke-width="0.8"/><ellipse cx="345.50" cy="223.00" rx="1.5" ry="1.32" fill="#bd2850" stroke="#2a0510" stroke-width="0.8"/><ellipse cx="365.50" cy="160.50" rx="1.5" ry="1.32" fill="#4d69a0" stroke="#0a1225" stroke-width="0.8"/><ellipse cx="365.50" cy="180.00" rx="1.5" ry="1.32" fill="#4d69a0" stroke="#0a1225" stroke-width="0.8"/><ellipse cx="365.50" cy="184.00" rx="1.5" ry="1.32" fill="#4d69a0" stroke="#0a1225" stroke-width="0.8"/><ellipse cx="365.50" cy="188.00" rx="1.5" ry="1.32" fill="#4d69a0" stroke="#0a1225" stroke-width="0.8"/><ellipse cx="365.50" cy="193.00" rx="1.5" ry="1.32" fill="#4d69a0" stroke="#0a1225" stroke-width="0.8"/><ellipse cx="365.50" cy="196.50" rx="1.5" ry="1.32" fill="#4d69a0" stroke="#0a1225" stroke-width="0.8"/><ellipse cx="365.50" cy="203.00" rx="1.5" ry="1.32" fill="#4d69a0" stroke="#0a1225" stroke-width="0.8"/><ellipse cx="365.50" cy="205.00" rx="1.5" ry="1.32" fill="#4d69a0" stroke="#0a1225" stroke-width="0.8"/><ellipse cx="365.50" cy="207.00" rx="1.5" ry="1.32" fill="#4d69a0" stroke="#0a1225" stroke-width="0.8"/><path d="M325.40,151.30V149.30H366.00V151.30" fill="none" stroke="#111" stroke-width="0.95"/><text x="345.50" y="149.60" font-size="5.2" text-anchor="middle" font-weight="normal" font-style="normal" fill="#111" stroke="#111" stroke-width="0.3"  >*</text><path d="M325.40,159.00V157.00H345.50V159.00" fill="none" stroke="#111" stroke-width="0.95"/><text x="335.60" y="157.30" font-size="5.2" text-anchor="middle" font-weight="normal" font-style="normal" fill="#111" stroke="#111" stroke-width="0.3"  >*</text><rect x="406.10" y="210.80" width="14.10" height="8.60" fill="#d97b93"/><rect x="426.60" y="212.00" width="13.70" height="7.40" fill="#97a9c9"/><path d="M393.2,211.2L412.9,210.5L433.0,213.5M393.2,211.2L412.9,215.0L433.0,205.0M393.2,211.2L412.9,204.5L433.0,211.0M393.2,211.2L412.9,220.5L433.0,216.0M393.2,211.2L412.9,215.0L433.0,208.0M393.2,211.2L412.9,207.5L433.0,201.5M393.2,211.2L412.9,217.5L433.0,219.0M393.2,211.2L412.9,223.0L433.0,222.0M393.2,211.2L412.9,213.0L433.0,224.5" fill="none" stroke="#747474" stroke-width="0.6" stroke-opacity="0.85"/><line x1="412.90" y1="204.50" x2="412.90" y2="210.80" stroke="#2a2a2a" stroke-width="1.2" /><line x1="412.90" y1="219.40" x2="412.90" y2="223.00" stroke="#2a2a2a" stroke-width="1.2" /><line x1="406.10" y1="214.80" x2="420.20" y2="214.80" stroke="#1a1a1a" stroke-width="1.35" /><line x1="433.00" y1="201.50" x2="433.00" y2="212.00" stroke="#2a2a2a" stroke-width="1.2" /><line x1="433.00" y1="219.40" x2="433.00" y2="224.50" stroke="#2a2a2a" stroke-width="1.2" /><line x1="426.60" y1="215.70" x2="440.30" y2="215.70" stroke="#1a1a1a" stroke-width="1.35" /><line x1="386.00" y1="211.20" x2="400.40" y2="211.20" stroke="#222" stroke-width="1.3" /><circle cx="393.20" cy="211.20" r="1.8" fill="#fff" stroke="#222" stroke-width="0.85"/><ellipse cx="412.90" cy="204.50" rx="1.5" ry="1.32" fill="#bd2850" stroke="#2a0510" stroke-width="0.8"/><ellipse cx="412.90" cy="207.50" rx="1.5" ry="1.32" fill="#bd2850" stroke="#2a0510" stroke-width="0.8"/><ellipse cx="412.90" cy="210.50" rx="1.5" ry="1.32" fill="#bd2850" stroke="#2a0510" stroke-width="0.8"/><ellipse cx="412.90" cy="213.00" rx="1.5" ry="1.32" fill="#bd2850" stroke="#2a0510" stroke-width="0.8"/><ellipse cx="412.90" cy="215.00" rx="1.5" ry="1.32" fill="#bd2850" stroke="#2a0510" stroke-width="0.8"/><ellipse cx="412.90" cy="217.50" rx="1.5" ry="1.32" fill="#bd2850" stroke="#2a0510" stroke-width="0.8"/><ellipse cx="412.90" cy="220.50" rx="1.5" ry="1.32" fill="#bd2850" stroke="#2a0510" stroke-width="0.8"/><ellipse cx="412.90" cy="223.00" rx="1.5" ry="1.32" fill="#bd2850" stroke="#2a0510" stroke-width="0.8"/><ellipse cx="433.00" cy="201.50" rx="1.5" ry="1.32" fill="#4d69a0" stroke="#0a1225" stroke-width="0.8"/><ellipse cx="433.00" cy="205.00" rx="1.5" ry="1.32" fill="#4d69a0" stroke="#0a1225" stroke-width="0.8"/><ellipse cx="433.00" cy="208.00" rx="1.5" ry="1.32" fill="#4d69a0" stroke="#0a1225" stroke-width="0.8"/><ellipse cx="433.00" cy="211.00" rx="1.5" ry="1.32" fill="#4d69a0" stroke="#0a1225" stroke-width="0.8"/><ellipse cx="433.00" cy="213.50" rx="1.5" ry="1.32" fill="#4d69a0" stroke="#0a1225" stroke-width="0.8"/><ellipse cx="433.00" cy="216.00" rx="1.5" ry="1.32" fill="#4d69a0" stroke="#0a1225" stroke-width="0.8"/><ellipse cx="433.00" cy="219.00" rx="1.5" ry="1.32" fill="#4d69a0" stroke="#0a1225" stroke-width="0.8"/><ellipse cx="433.00" cy="222.00" rx="1.5" ry="1.32" fill="#4d69a0" stroke="#0a1225" stroke-width="0.8"/><ellipse cx="433.00" cy="224.50" rx="1.5" ry="1.32" fill="#4d69a0" stroke="#0a1225" stroke-width="0.8"/><path d="M392.80,185.30V183.30H433.40V185.30" fill="none" stroke="#111" stroke-width="0.95"/><text x="412.00" y="183.60" font-size="5.2" text-anchor="middle" font-weight="normal" font-style="normal" fill="#111" stroke="#111" stroke-width="0.3"  >*</text><path d="M392.80,193.00V191.00H413.50V193.00" fill="none" stroke="#111" stroke-width="0.95"/><text x="402.90" y="191.30" font-size="5.2" text-anchor="middle" font-weight="normal" font-style="normal" fill="#111" stroke="#111" stroke-width="0.3"  >*</text><text x="412.90" y="199.40" font-size="7.8" text-anchor="middle" font-weight="normal" font-style="normal" fill="#222" stroke="#222" stroke-width="0.1"  >a</text><text x="433.00" y="198.20" font-size="7.8" text-anchor="middle" font-weight="normal" font-style="normal" fill="#222" stroke="#222" stroke-width="0.1"  >a</text><rect x="473.60" y="207.60" width="14.60" height="8.20" fill="#d97b93"/><rect x="493.70" y="203.00" width="14.70" height="11.90" fill="#97a9c9"/><path d="M461.3,211.2L480.9,162.0L500.7,184.0M461.3,211.2L480.9,204.0L500.7,209.0M461.3,211.2L480.9,216.5L500.7,200.0M461.3,211.2L480.9,208.0L500.7,203.5M461.3,211.2L480.9,210.5L500.7,215.5M461.3,211.2L480.9,206.0L500.7,196.0M461.3,211.2L480.9,212.5L500.7,206.5M461.3,211.2L480.9,214.5L500.7,220.0M461.3,211.2L480.9,210.5L500.7,212.5" fill="none" stroke="#747474" stroke-width="0.6" stroke-opacity="0.85"/><line x1="480.90" y1="204.00" x2="480.90" y2="207.60" stroke="#2a2a2a" stroke-width="1.2" /><line x1="480.90" y1="215.80" x2="480.90" y2="216.50" stroke="#2a2a2a" stroke-width="1.2" /><line x1="473.60" y1="211.60" x2="488.20" y2="211.60" stroke="#1a1a1a" stroke-width="1.35" /><line x1="500.70" y1="184.00" x2="500.70" y2="203.00" stroke="#2a2a2a" stroke-width="1.2" /><line x1="500.70" y1="214.90" x2="500.70" y2="220.00" stroke="#2a2a2a" stroke-width="1.2" /><line x1="493.70" y1="207.20" x2="508.40" y2="207.20" stroke="#1a1a1a" stroke-width="1.35" /><line x1="454.10" y1="211.20" x2="468.50" y2="211.20" stroke="#222" stroke-width="1.3" /><circle cx="461.30" cy="211.20" r="1.8" fill="#fff" stroke="#222" stroke-width="0.85"/><ellipse cx="480.90" cy="162.00" rx="1.5" ry="1.32" fill="#bd2850" stroke="#2a0510" stroke-width="0.8"/><ellipse cx="480.90" cy="204.00" rx="1.5" ry="1.32" fill="#bd2850" stroke="#2a0510" stroke-width="0.8"/><ellipse cx="480.90" cy="206.00" rx="1.5" ry="1.32" fill="#bd2850" stroke="#2a0510" stroke-width="0.8"/><ellipse cx="480.90" cy="208.00" rx="1.5" ry="1.32" fill="#bd2850" stroke="#2a0510" stroke-width="0.8"/><ellipse cx="480.90" cy="210.50" rx="1.5" ry="1.32" fill="#bd2850" stroke="#2a0510" stroke-width="0.8"/><ellipse cx="480.90" cy="212.50" rx="1.5" ry="1.32" fill="#bd2850" stroke="#2a0510" stroke-width="0.8"/><ellipse cx="480.90" cy="214.50" rx="1.5" ry="1.32" fill="#bd2850" stroke="#2a0510" stroke-width="0.8"/><ellipse cx="480.90" cy="216.50" rx="1.5" ry="1.32" fill="#bd2850" stroke="#2a0510" stroke-width="0.8"/><ellipse cx="500.70" cy="184.00" rx="1.5" ry="1.32" fill="#4d69a0" stroke="#0a1225" stroke-width="0.8"/><ellipse cx="500.70" cy="196.00" rx="1.5" ry="1.32" fill="#4d69a0" stroke="#0a1225" stroke-width="0.8"/><ellipse cx="500.70" cy="200.00" rx="1.5" ry="1.32" fill="#4d69a0" stroke="#0a1225" stroke-width="0.8"/><ellipse cx="500.70" cy="203.50" rx="1.5" ry="1.32" fill="#4d69a0" stroke="#0a1225" stroke-width="0.8"/><ellipse cx="500.70" cy="206.50" rx="1.5" ry="1.32" fill="#4d69a0" stroke="#0a1225" stroke-width="0.8"/><ellipse cx="500.70" cy="209.00" rx="1.5" ry="1.32" fill="#4d69a0" stroke="#0a1225" stroke-width="0.8"/><ellipse cx="500.70" cy="212.50" rx="1.5" ry="1.32" fill="#4d69a0" stroke="#0a1225" stroke-width="0.8"/><ellipse cx="500.70" cy="215.50" rx="1.5" ry="1.32" fill="#4d69a0" stroke="#0a1225" stroke-width="0.8"/><ellipse cx="500.70" cy="220.00" rx="1.5" ry="1.32" fill="#4d69a0" stroke="#0a1225" stroke-width="0.8"/><text x="480.90" y="157.30" font-size="7.8" text-anchor="middle" font-weight="normal" font-style="normal" fill="#222" stroke="#222" stroke-width="0.1"  >ab</text><text x="500.50" y="175.10" font-size="7.8" text-anchor="middle" font-weight="normal" font-style="normal" fill="#222" stroke="#222" stroke-width="0.1"  >ab</text><rect x="57.60" y="317.50" width="14.30" height="16.00" fill="#e2e2e2"/><rect x="77.40" y="321.80" width="14.40" height="15.90" fill="#d97b93"/><rect x="97.00" y="334.00" width="14.20" height="16.00" fill="#97a9c9"/><path d="M64.5,306.5L84.5,359.5L103.9,338.0M64.5,309.0L84.5,310.5L103.9,327.0M64.5,311.5L84.5,319.5L103.9,330.5M64.5,313.5L84.5,301.5L103.9,347.5M64.5,317.0L84.5,323.0L103.9,356.5M64.5,317.0L84.5,327.0L103.9,341.5M64.5,322.0L84.5,325.0L103.9,344.5M64.5,327.6L84.5,329.0L103.9,323.5M64.5,333.0L84.5,338.5L103.9,350.5M64.5,336.0L84.5,343.0L103.9,354.0M64.5,345.0L84.5,335.0L103.9,341.5" fill="none" stroke="#747474" stroke-width="0.6" stroke-opacity="0.85"/><line x1="64.50" y1="306.50" x2="64.50" y2="317.50" stroke="#333" stroke-width="1.2" /><line x1="64.50" y1="333.50" x2="64.50" y2="345.00" stroke="#333" stroke-width="1.2" /><line x1="57.60" y1="327.60" x2="71.90" y2="327.60" stroke="#3a3a3a" stroke-width="1.35" /><line x1="84.50" y1="301.50" x2="84.50" y2="321.80" stroke="#2a2a2a" stroke-width="1.2" /><line x1="84.50" y1="337.70" x2="84.50" y2="359.50" stroke="#2a2a2a" stroke-width="1.2" /><line x1="77.40" y1="327.30" x2="91.80" y2="327.30" stroke="#1a1a1a" stroke-width="1.35" /><line x1="103.90" y1="323.50" x2="103.90" y2="334.00" stroke="#2a2a2a" stroke-width="1.2" /><line x1="103.90" y1="350.00" x2="103.90" y2="356.50" stroke="#2a2a2a" stroke-width="1.2" /><line x1="97.00" y1="344.50" x2="111.20" y2="344.50" stroke="#1a1a1a" stroke-width="1.35" /><ellipse cx="64.50" cy="306.50" rx="1.5" ry="1.32" fill="#e6e6e6" fill-opacity="0.25" stroke="#2e2e2e" stroke-width="0.8"/><ellipse cx="64.50" cy="309.00" rx="1.5" ry="1.32" fill="#e6e6e6" fill-opacity="0.25" stroke="#2e2e2e" stroke-width="0.8"/><ellipse cx="64.50" cy="311.50" rx="1.5" ry="1.32" fill="#e6e6e6" fill-opacity="0.25" stroke="#2e2e2e" stroke-width="0.8"/><ellipse cx="64.50" cy="313.50" rx="1.5" ry="1.32" fill="#e6e6e6" fill-opacity="0.25" stroke="#2e2e2e" stroke-width="0.8"/><ellipse cx="64.50" cy="317.00" rx="1.5" ry="1.32" fill="#e6e6e6" fill-opacity="0.25" stroke="#2e2e2e" stroke-width="0.8"/><ellipse cx="64.50" cy="322.00" rx="1.5" ry="1.32" fill="#e6e6e6" fill-opacity="0.25" stroke="#2e2e2e" stroke-width="0.8"/><ellipse cx="64.50" cy="327.60" rx="1.5" ry="1.32" fill="#e6e6e6" fill-opacity="0.25" stroke="#2e2e2e" stroke-width="0.8"/><ellipse cx="64.50" cy="333.00" rx="1.5" ry="1.32" fill="#e6e6e6" fill-opacity="0.25" stroke="#2e2e2e" stroke-width="0.8"/><ellipse cx="64.50" cy="336.00" rx="1.5" ry="1.32" fill="#e6e6e6" fill-opacity="0.25" stroke="#2e2e2e" stroke-width="0.8"/><ellipse cx="64.50" cy="345.00" rx="1.5" ry="1.32" fill="#e6e6e6" fill-opacity="0.25" stroke="#2e2e2e" stroke-width="0.8"/><ellipse cx="84.50" cy="301.50" rx="1.5" ry="1.32" fill="#bd2850" stroke="#2a0510" stroke-width="0.8"/><ellipse cx="84.50" cy="310.50" rx="1.5" ry="1.32" fill="#bd2850" stroke="#2a0510" stroke-width="0.8"/><ellipse cx="84.50" cy="319.50" rx="1.5" ry="1.32" fill="#bd2850" stroke="#2a0510" stroke-width="0.8"/><ellipse cx="84.50" cy="323.00" rx="1.5" ry="1.32" fill="#bd2850" stroke="#2a0510" stroke-width="0.8"/><ellipse cx="84.50" cy="325.00" rx="1.5" ry="1.32" fill="#bd2850" stroke="#2a0510" stroke-width="0.8"/><ellipse cx="84.50" cy="327.00" rx="1.5" ry="1.32" fill="#bd2850" stroke="#2a0510" stroke-width="0.8"/><ellipse cx="84.50" cy="329.00" rx="1.5" ry="1.32" fill="#bd2850" stroke="#2a0510" stroke-width="0.8"/><ellipse cx="84.50" cy="335.00" rx="1.5" ry="1.32" fill="#bd2850" stroke="#2a0510" stroke-width="0.8"/><ellipse cx="84.50" cy="338.50" rx="1.5" ry="1.32" fill="#bd2850" stroke="#2a0510" stroke-width="0.8"/><ellipse cx="84.50" cy="343.00" rx="1.5" ry="1.32" fill="#bd2850" stroke="#2a0510" stroke-width="0.8"/><ellipse cx="84.50" cy="359.50" rx="1.5" ry="1.32" fill="#bd2850" stroke="#2a0510" stroke-width="0.8"/><ellipse cx="103.90" cy="323.50" rx="1.5" ry="1.32" fill="#4d69a0" stroke="#0a1225" stroke-width="0.8"/><ellipse cx="103.90" cy="327.00" rx="1.5" ry="1.32" fill="#4d69a0" stroke="#0a1225" stroke-width="0.8"/><ellipse cx="103.90" cy="330.50" rx="1.5" ry="1.32" fill="#4d69a0" stroke="#0a1225" stroke-width="0.8"/><ellipse cx="103.90" cy="338.00" rx="1.5" ry="1.32" fill="#4d69a0" stroke="#0a1225" stroke-width="0.8"/><ellipse cx="103.90" cy="341.50" rx="1.5" ry="1.32" fill="#4d69a0" stroke="#0a1225" stroke-width="0.8"/><ellipse cx="103.90" cy="344.50" rx="1.5" ry="1.32" fill="#4d69a0" stroke="#0a1225" stroke-width="0.8"/><ellipse cx="103.90" cy="347.50" rx="1.5" ry="1.32" fill="#4d69a0" stroke="#0a1225" stroke-width="0.8"/><ellipse cx="103.90" cy="350.50" rx="1.5" ry="1.32" fill="#4d69a0" stroke="#0a1225" stroke-width="0.8"/><ellipse cx="103.90" cy="354.00" rx="1.5" ry="1.32" fill="#4d69a0" stroke="#0a1225" stroke-width="0.8"/><ellipse cx="103.90" cy="356.50" rx="1.5" ry="1.32" fill="#4d69a0" stroke="#0a1225" stroke-width="0.8"/><path d="M84.10,290.20V288.20H103.90V290.20" fill="none" stroke="#111" stroke-width="0.95"/><text x="94.20" y="288.50" font-size="5.2" text-anchor="middle" font-weight="normal" font-style="normal" fill="#111" stroke="#111" stroke-width="0.3"  >*</text><path d="M64.50,298.80V296.80H103.90V298.80" fill="none" stroke="#111" stroke-width="0.95"/><text x="84.50" y="297.10" font-size="5.2" text-anchor="middle" font-weight="normal" font-style="normal" fill="#111" stroke="#111" stroke-width="0.3"  >*</text><rect x="124.40" y="316.30" width="13.70" height="20.10" fill="#e2e2e2"/><rect x="143.60" y="324.30" width="14.30" height="24.90" fill="#d97b93"/><rect x="163.40" y="334.40" width="14.50" height="11.50" fill="#97a9c9"/><path d="M131.2,308.5L151.0,307.5L170.6,341.0M131.2,311.0L151.0,318.0L170.6,327.0M131.2,313.0L151.0,311.5L170.6,338.0M131.2,315.5L151.0,303.0L170.6,318.0M131.2,318.0L151.0,326.0L170.6,349.5M131.2,320.5L151.0,331.5L170.6,341.0M131.2,323.0L151.0,331.5L170.6,327.0M131.2,335.0L151.0,337.5L170.6,344.0M131.2,337.0L151.0,352.0L170.6,356.5M131.2,340.0L151.0,355.0L170.6,334.5M131.2,344.0L151.0,344.5L170.6,349.5M131.2,346.5L151.0,349.5L170.6,346.5" fill="none" stroke="#747474" stroke-width="0.6" stroke-opacity="0.85"/><line x1="131.20" y1="308.50" x2="131.20" y2="316.30" stroke="#333" stroke-width="1.2" /><line x1="131.20" y1="336.40" x2="131.20" y2="346.50" stroke="#333" stroke-width="1.2" /><line x1="124.40" y1="323.60" x2="138.10" y2="323.60" stroke="#3a3a3a" stroke-width="1.35" /><line x1="151.00" y1="303.00" x2="151.00" y2="324.30" stroke="#2a2a2a" stroke-width="1.2" /><line x1="151.00" y1="349.20" x2="151.00" y2="355.00" stroke="#2a2a2a" stroke-width="1.2" /><line x1="143.60" y1="337.70" x2="157.90" y2="337.70" stroke="#1a1a1a" stroke-width="1.35" /><line x1="170.60" y1="318.00" x2="170.60" y2="334.40" stroke="#2a2a2a" stroke-width="1.2" /><line x1="170.60" y1="345.90" x2="170.60" y2="356.50" stroke="#2a2a2a" stroke-width="1.2" /><line x1="163.40" y1="340.10" x2="177.90" y2="340.10" stroke="#1a1a1a" stroke-width="1.35" /><ellipse cx="131.20" cy="308.50" rx="1.5" ry="1.32" fill="#e6e6e6" fill-opacity="0.25" stroke="#2e2e2e" stroke-width="0.8"/><ellipse cx="131.20" cy="311.00" rx="1.5" ry="1.32" fill="#e6e6e6" fill-opacity="0.25" stroke="#2e2e2e" stroke-width="0.8"/><ellipse cx="131.20" cy="313.00" rx="1.5" ry="1.32" fill="#e6e6e6" fill-opacity="0.25" stroke="#2e2e2e" stroke-width="0.8"/><ellipse cx="131.20" cy="315.50" rx="1.5" ry="1.32" fill="#e6e6e6" fill-opacity="0.25" stroke="#2e2e2e" stroke-width="0.8"/><ellipse cx="131.20" cy="318.00" rx="1.5" ry="1.32" fill="#e6e6e6" fill-opacity="0.25" stroke="#2e2e2e" stroke-width="0.8"/><ellipse cx="131.20" cy="320.50" rx="1.5" ry="1.32" fill="#e6e6e6" fill-opacity="0.25" stroke="#2e2e2e" stroke-width="0.8"/><ellipse cx="131.20" cy="323.00" rx="1.5" ry="1.32" fill="#e6e6e6" fill-opacity="0.25" stroke="#2e2e2e" stroke-width="0.8"/><ellipse cx="131.20" cy="335.00" rx="1.5" ry="1.32" fill="#e6e6e6" fill-opacity="0.25" stroke="#2e2e2e" stroke-width="0.8"/><ellipse cx="131.20" cy="337.00" rx="1.5" ry="1.32" fill="#e6e6e6" fill-opacity="0.25" stroke="#2e2e2e" stroke-width="0.8"/><ellipse cx="131.20" cy="340.00" rx="1.5" ry="1.32" fill="#e6e6e6" fill-opacity="0.25" stroke="#2e2e2e" stroke-width="0.8"/><ellipse cx="131.20" cy="344.00" rx="1.5" ry="1.32" fill="#e6e6e6" fill-opacity="0.25" stroke="#2e2e2e" stroke-width="0.8"/><ellipse cx="131.20" cy="346.50" rx="1.5" ry="1.32" fill="#e6e6e6" fill-opacity="0.25" stroke="#2e2e2e" stroke-width="0.8"/><ellipse cx="151.00" cy="303.00" rx="1.5" ry="1.32" fill="#bd2850" stroke="#2a0510" stroke-width="0.8"/><ellipse cx="151.00" cy="307.50" rx="1.5" ry="1.32" fill="#bd2850" stroke="#2a0510" stroke-width="0.8"/><ellipse cx="151.00" cy="311.50" rx="1.5" ry="1.32" fill="#bd2850" stroke="#2a0510" stroke-width="0.8"/><ellipse cx="151.00" cy="318.00" rx="1.5" ry="1.32" fill="#bd2850" stroke="#2a0510" stroke-width="0.8"/><ellipse cx="151.00" cy="326.00" rx="1.5" ry="1.32" fill="#bd2850" stroke="#2a0510" stroke-width="0.8"/><ellipse cx="151.00" cy="331.50" rx="1.5" ry="1.32" fill="#bd2850" stroke="#2a0510" stroke-width="0.8"/><ellipse cx="151.00" cy="337.50" rx="1.5" ry="1.32" fill="#bd2850" stroke="#2a0510" stroke-width="0.8"/><ellipse cx="151.00" cy="344.50" rx="1.5" ry="1.32" fill="#bd2850" stroke="#2a0510" stroke-width="0.8"/><ellipse cx="151.00" cy="349.50" rx="1.5" ry="1.32" fill="#bd2850" stroke="#2a0510" stroke-width="0.8"/><ellipse cx="151.00" cy="352.00" rx="1.5" ry="1.32" fill="#bd2850" stroke="#2a0510" stroke-width="0.8"/><ellipse cx="151.00" cy="355.00" rx="1.5" ry="1.32" fill="#bd2850" stroke="#2a0510" stroke-width="0.8"/><ellipse cx="170.60" cy="318.00" rx="1.5" ry="1.32" fill="#4d69a0" stroke="#0a1225" stroke-width="0.8"/><ellipse cx="170.60" cy="327.00" rx="1.5" ry="1.32" fill="#4d69a0" stroke="#0a1225" stroke-width="0.8"/><ellipse cx="170.60" cy="334.50" rx="1.5" ry="1.32" fill="#4d69a0" stroke="#0a1225" stroke-width="0.8"/><ellipse cx="170.60" cy="338.00" rx="1.5" ry="1.32" fill="#4d69a0" stroke="#0a1225" stroke-width="0.8"/><ellipse cx="170.60" cy="341.00" rx="1.5" ry="1.32" fill="#4d69a0" stroke="#0a1225" stroke-width="0.8"/><ellipse cx="170.60" cy="344.00" rx="1.5" ry="1.32" fill="#4d69a0" stroke="#0a1225" stroke-width="0.8"/><ellipse cx="170.60" cy="346.50" rx="1.5" ry="1.32" fill="#4d69a0" stroke="#0a1225" stroke-width="0.8"/><ellipse cx="170.60" cy="349.50" rx="1.5" ry="1.32" fill="#4d69a0" stroke="#0a1225" stroke-width="0.8"/><ellipse cx="170.60" cy="356.50" rx="1.5" ry="1.32" fill="#4d69a0" stroke="#0a1225" stroke-width="0.8"/><path d="M130.80,300.30V298.30H171.10V300.30" fill="none" stroke="#111" stroke-width="0.95"/><text x="151.00" y="298.60" font-size="5.2" text-anchor="middle" font-weight="normal" font-style="normal" fill="#111" stroke="#111" stroke-width="0.3"  >*</text><rect x="190.60" y="319.30" width="14.20" height="22.90" fill="#e2e2e2"/><rect x="210.30" y="326.10" width="14.50" height="14.80" fill="#d97b93"/><rect x="229.90" y="318.80" width="14.20" height="19.30" fill="#97a9c9"/><path d="M197.5,311.0L217.4,303.5L236.8,317.5M197.5,314.0L217.4,315.0L236.8,317.5M197.5,314.0L217.4,318.0L236.8,328.5M197.5,317.0L217.4,328.5L236.8,311.5M197.5,323.0L217.4,348.0L236.8,323.5M197.5,323.0L217.4,331.0L236.8,336.5M197.5,328.0L217.4,342.0L236.8,334.0M197.5,332.0L217.4,360.0L236.8,334.0M197.5,334.5L217.4,325.5L236.8,323.5M197.5,334.5L217.4,321.5L236.8,339.5M197.5,340.0L217.4,333.5L236.8,343.0M197.5,342.5L217.4,354.0L236.8,343.0M197.5,342.5L217.4,336.5L236.8,339.5M197.5,347.0L217.4,365.5L236.8,346.0" fill="none" stroke="#747474" stroke-width="0.6" stroke-opacity="0.85"/><line x1="197.50" y1="311.00" x2="197.50" y2="319.30" stroke="#333" stroke-width="1.2" /><line x1="197.50" y1="342.20" x2="197.50" y2="347.00" stroke="#333" stroke-width="1.2" /><line x1="190.60" y1="333.40" x2="204.80" y2="333.40" stroke="#3a3a3a" stroke-width="1.35" /><line x1="217.40" y1="315.00" x2="217.40" y2="326.10" stroke="#2a2a2a" stroke-width="1.2" /><line x1="217.40" y1="340.90" x2="217.40" y2="360.00" stroke="#2a2a2a" stroke-width="1.2" /><line x1="210.30" y1="331.20" x2="224.80" y2="331.20" stroke="#1a1a1a" stroke-width="1.35" /><line x1="236.80" y1="311.50" x2="236.80" y2="318.80" stroke="#2a2a2a" stroke-width="1.2" /><line x1="236.80" y1="338.10" x2="236.80" y2="346.00" stroke="#2a2a2a" stroke-width="1.2" /><line x1="229.90" y1="332.10" x2="244.10" y2="332.10" stroke="#1a1a1a" stroke-width="1.35" /><ellipse cx="197.50" cy="311.00" rx="1.5" ry="1.32" fill="#e6e6e6" fill-opacity="0.25" stroke="#2e2e2e" stroke-width="0.8"/><ellipse cx="197.50" cy="314.00" rx="1.5" ry="1.32" fill="#e6e6e6" fill-opacity="0.25" stroke="#2e2e2e" stroke-width="0.8"/><ellipse cx="197.50" cy="317.00" rx="1.5" ry="1.32" fill="#e6e6e6" fill-opacity="0.25" stroke="#2e2e2e" stroke-width="0.8"/><ellipse cx="197.50" cy="323.00" rx="1.5" ry="1.32" fill="#e6e6e6" fill-opacity="0.25" stroke="#2e2e2e" stroke-width="0.8"/><ellipse cx="197.50" cy="328.00" rx="1.5" ry="1.32" fill="#e6e6e6" fill-opacity="0.25" stroke="#2e2e2e" stroke-width="0.8"/><ellipse cx="197.50" cy="332.00" rx="1.5" ry="1.32" fill="#e6e6e6" fill-opacity="0.25" stroke="#2e2e2e" stroke-width="0.8"/><ellipse cx="197.50" cy="334.50" rx="1.5" ry="1.32" fill="#e6e6e6" fill-opacity="0.25" stroke="#2e2e2e" stroke-width="0.8"/><ellipse cx="197.50" cy="340.00" rx="1.5" ry="1.32" fill="#e6e6e6" fill-opacity="0.25" stroke="#2e2e2e" stroke-width="0.8"/><ellipse cx="197.50" cy="342.50" rx="1.5" ry="1.32" fill="#e6e6e6" fill-opacity="0.25" stroke="#2e2e2e" stroke-width="0.8"/><ellipse cx="197.50" cy="347.00" rx="1.5" ry="1.32" fill="#e6e6e6" fill-opacity="0.25" stroke="#2e2e2e" stroke-width="0.8"/><ellipse cx="217.40" cy="303.50" rx="1.5" ry="1.32" fill="#bd2850" stroke="#2a0510" stroke-width="0.8"/><ellipse cx="217.40" cy="315.00" rx="1.5" ry="1.32" fill="#bd2850" stroke="#2a0510" stroke-width="0.8"/><ellipse cx="217.40" cy="318.00" rx="1.5" ry="1.32" fill="#bd2850" stroke="#2a0510" stroke-width="0.8"/><ellipse cx="217.40" cy="321.50" rx="1.5" ry="1.32" fill="#bd2850" stroke="#2a0510" stroke-width="0.8"/><ellipse cx="217.40" cy="325.50" rx="1.5" ry="1.32" fill="#bd2850" stroke="#2a0510" stroke-width="0.8"/><ellipse cx="217.40" cy="328.50" rx="1.5" ry="1.32" fill="#bd2850" stroke="#2a0510" stroke-width="0.8"/><ellipse cx="217.40" cy="331.00" rx="1.5" ry="1.32" fill="#bd2850" stroke="#2a0510" stroke-width="0.8"/><ellipse cx="217.40" cy="333.50" rx="1.5" ry="1.32" fill="#bd2850" stroke="#2a0510" stroke-width="0.8"/><ellipse cx="217.40" cy="336.50" rx="1.5" ry="1.32" fill="#bd2850" stroke="#2a0510" stroke-width="0.8"/><ellipse cx="217.40" cy="342.00" rx="1.5" ry="1.32" fill="#bd2850" stroke="#2a0510" stroke-width="0.8"/><ellipse cx="217.40" cy="348.00" rx="1.5" ry="1.32" fill="#bd2850" stroke="#2a0510" stroke-width="0.8"/><ellipse cx="217.40" cy="354.00" rx="1.5" ry="1.32" fill="#bd2850" stroke="#2a0510" stroke-width="0.8"/><ellipse cx="217.40" cy="360.00" rx="1.5" ry="1.32" fill="#bd2850" stroke="#2a0510" stroke-width="0.8"/><ellipse cx="217.40" cy="365.50" rx="1.5" ry="1.32" fill="#bd2850" stroke="#2a0510" stroke-width="0.8"/><ellipse cx="236.80" cy="311.50" rx="1.5" ry="1.32" fill="#4d69a0" stroke="#0a1225" stroke-width="0.8"/><ellipse cx="236.80" cy="317.50" rx="1.5" ry="1.32" fill="#4d69a0" stroke="#0a1225" stroke-width="0.8"/><ellipse cx="236.80" cy="323.50" rx="1.5" ry="1.32" fill="#4d69a0" stroke="#0a1225" stroke-width="0.8"/><ellipse cx="236.80" cy="328.50" rx="1.5" ry="1.32" fill="#4d69a0" stroke="#0a1225" stroke-width="0.8"/><ellipse cx="236.80" cy="334.00" rx="1.5" ry="1.32" fill="#4d69a0" stroke="#0a1225" stroke-width="0.8"/><ellipse cx="236.80" cy="336.50" rx="1.5" ry="1.32" fill="#4d69a0" stroke="#0a1225" stroke-width="0.8"/><ellipse cx="236.80" cy="339.50" rx="1.5" ry="1.32" fill="#4d69a0" stroke="#0a1225" stroke-width="0.8"/><ellipse cx="236.80" cy="343.00" rx="1.5" ry="1.32" fill="#4d69a0" stroke="#0a1225" stroke-width="0.8"/><ellipse cx="236.80" cy="346.00" rx="1.5" ry="1.32" fill="#4d69a0" stroke="#0a1225" stroke-width="0.8"/><text x="237.20" y="306.60" font-size="7.8" text-anchor="middle" font-weight="normal" font-style="normal" fill="#222" stroke="#222" stroke-width="0.1"  >ab</text><rect x="77.40" y="413.50" width="14.60" height="27.30" fill="#d97b93"/><rect x="97.00" y="440.10" width="14.20" height="4.90" fill="#97a9c9"/><path d="M64.9,425.4L84.5,414.5L104.3,441.5M64.9,425.4L84.5,412.0L104.3,437.5M64.9,425.4L84.5,409.5L104.3,446.0M64.9,425.4L84.5,436.5L104.3,435.5M64.9,425.4L84.5,420.0L104.3,443.5M64.9,425.4L84.5,441.5L104.3,439.5M64.9,425.4L84.5,439.0L104.3,448.5M64.9,425.4L84.5,418.0L104.3,461.5M64.9,425.4L84.5,444.5L104.3,465.5M64.9,425.4L84.5,447.0L104.3,463.5" fill="none" stroke="#747474" stroke-width="0.6" stroke-opacity="0.85"/><line x1="84.50" y1="409.50" x2="84.50" y2="413.50" stroke="#2a2a2a" stroke-width="1.2" /><line x1="84.50" y1="440.80" x2="84.50" y2="447.00" stroke="#2a2a2a" stroke-width="1.2" /><line x1="77.40" y1="428.50" x2="92.00" y2="428.50" stroke="#1a1a1a" stroke-width="1.35" /><line x1="104.30" y1="435.50" x2="104.30" y2="440.10" stroke="#2a2a2a" stroke-width="1.2" /><line x1="104.30" y1="445.00" x2="104.30" y2="448.50" stroke="#2a2a2a" stroke-width="1.2" /><line x1="97.00" y1="442.60" x2="111.20" y2="442.60" stroke="#1a1a1a" stroke-width="1.35" /><line x1="57.70" y1="425.40" x2="72.10" y2="425.40" stroke="#222" stroke-width="1.3" /><circle cx="64.90" cy="425.40" r="1.8" fill="#fff" stroke="#222" stroke-width="0.85"/><ellipse cx="84.50" cy="409.50" rx="1.5" ry="1.32" fill="#bd2850" stroke="#2a0510" stroke-width="0.8"/><ellipse cx="84.50" cy="412.00" rx="1.5" ry="1.32" fill="#bd2850" stroke="#2a0510" stroke-width="0.8"/><ellipse cx="84.50" cy="414.50" rx="1.5" ry="1.32" fill="#bd2850" stroke="#2a0510" stroke-width="0.8"/><ellipse cx="84.50" cy="418.00" rx="1.5" ry="1.32" fill="#bd2850" stroke="#2a0510" stroke-width="0.8"/><ellipse cx="84.50" cy="420.00" rx="1.5" ry="1.32" fill="#bd2850" stroke="#2a0510" stroke-width="0.8"/><ellipse cx="84.50" cy="436.50" rx="1.5" ry="1.32" fill="#bd2850" stroke="#2a0510" stroke-width="0.8"/><ellipse cx="84.50" cy="439.00" rx="1.5" ry="1.32" fill="#bd2850" stroke="#2a0510" stroke-width="0.8"/><ellipse cx="84.50" cy="441.50" rx="1.5" ry="1.32" fill="#bd2850" stroke="#2a0510" stroke-width="0.8"/><ellipse cx="84.50" cy="444.50" rx="1.5" ry="1.32" fill="#bd2850" stroke="#2a0510" stroke-width="0.8"/><ellipse cx="84.50" cy="447.00" rx="1.5" ry="1.32" fill="#bd2850" stroke="#2a0510" stroke-width="0.8"/><ellipse cx="104.30" cy="435.50" rx="1.5" ry="1.32" fill="#4d69a0" stroke="#0a1225" stroke-width="0.8"/><ellipse cx="104.30" cy="437.50" rx="1.5" ry="1.32" fill="#4d69a0" stroke="#0a1225" stroke-width="0.8"/><ellipse cx="104.30" cy="439.50" rx="1.5" ry="1.32" fill="#4d69a0" stroke="#0a1225" stroke-width="0.8"/><ellipse cx="104.30" cy="441.50" rx="1.5" ry="1.32" fill="#4d69a0" stroke="#0a1225" stroke-width="0.8"/><ellipse cx="104.30" cy="443.50" rx="1.5" ry="1.32" fill="#4d69a0" stroke="#0a1225" stroke-width="0.8"/><ellipse cx="104.30" cy="446.00" rx="1.5" ry="1.32" fill="#4d69a0" stroke="#0a1225" stroke-width="0.8"/><ellipse cx="104.30" cy="448.50" rx="1.5" ry="1.32" fill="#4d69a0" stroke="#0a1225" stroke-width="0.8"/><ellipse cx="104.30" cy="461.50" rx="1.5" ry="1.32" fill="#4d69a0" stroke="#0a1225" stroke-width="0.8"/><ellipse cx="104.30" cy="463.50" rx="1.5" ry="1.32" fill="#4d69a0" stroke="#0a1225" stroke-width="0.8"/><ellipse cx="104.30" cy="465.50" rx="1.5" ry="1.32" fill="#4d69a0" stroke="#0a1225" stroke-width="0.8"/><path d="M84.50,399.40V397.40H104.30V399.40" fill="none" stroke="#111" stroke-width="0.95"/><text x="94.60" y="397.70" font-size="5.2" text-anchor="middle" font-weight="normal" font-style="normal" fill="#111" stroke="#111" stroke-width="0.3"  >*</text><path d="M64.90,406.70V404.70H104.30V406.70" fill="none" stroke="#111" stroke-width="0.95"/><text x="84.50" y="405.00" font-size="5.2" text-anchor="middle" font-weight="normal" font-style="normal" fill="#111" stroke="#111" stroke-width="0.3"  >*</text><rect x="144.00" y="434.40" width="13.90" height="9.70" fill="#d97b93"/><rect x="163.40" y="430.00" width="14.50" height="24.70" fill="#97a9c9"/><path d="M131.4,425.4L151.0,414.5L170.6,423.5M131.4,425.4L151.0,438.5L170.6,428.0M131.4,425.4L151.0,428.0L170.6,457.5M131.4,425.4L151.0,420.5L170.6,436.0M131.4,425.4L151.0,444.0L170.6,438.5M131.4,425.4L151.0,433.0L170.6,455.0M131.4,425.4L151.0,441.0L170.6,438.5M131.4,425.4L151.0,436.0L170.6,452.0M131.4,425.4L151.0,451.5L170.6,433.0M131.4,425.4L151.0,448.0L170.6,443.0" fill="none" stroke="#747474" stroke-width="0.6" stroke-opacity="0.85"/><line x1="151.00" y1="420.50" x2="151.00" y2="434.40" stroke="#2a2a2a" stroke-width="1.2" /><line x1="151.00" y1="444.10" x2="151.00" y2="451.50" stroke="#2a2a2a" stroke-width="1.2" /><line x1="144.00" y1="438.20" x2="157.90" y2="438.20" stroke="#1a1a1a" stroke-width="1.35" /><line x1="170.60" y1="423.50" x2="170.60" y2="430.00" stroke="#2a2a2a" stroke-width="1.2" /><line x1="170.60" y1="454.70" x2="170.60" y2="457.50" stroke="#2a2a2a" stroke-width="1.2" /><line x1="163.40" y1="438.60" x2="177.90" y2="438.60" stroke="#1a1a1a" stroke-width="1.35" /><line x1="124.20" y1="425.40" x2="138.60" y2="425.40" stroke="#222" stroke-width="1.3" /><circle cx="131.40" cy="425.40" r="1.8" fill="#fff" stroke="#222" stroke-width="0.85"/><ellipse cx="151.00" cy="414.50" rx="1.5" ry="1.32" fill="#bd2850" stroke="#2a0510" stroke-width="0.8"/><ellipse cx="151.00" cy="420.50" rx="1.5" ry="1.32" fill="#bd2850" stroke="#2a0510" stroke-width="0.8"/><ellipse cx="151.00" cy="428.00" rx="1.5" ry="1.32" fill="#bd2850" stroke="#2a0510" stroke-width="0.8"/><ellipse cx="151.00" cy="433.00" rx="1.5" ry="1.32" fill="#bd2850" stroke="#2a0510" stroke-width="0.8"/><ellipse cx="151.00" cy="436.00" rx="1.5" ry="1.32" fill="#bd2850" stroke="#2a0510" stroke-width="0.8"/><ellipse cx="151.00" cy="438.50" rx="1.5" ry="1.32" fill="#bd2850" stroke="#2a0510" stroke-width="0.8"/><ellipse cx="151.00" cy="441.00" rx="1.5" ry="1.32" fill="#bd2850" stroke="#2a0510" stroke-width="0.8"/><ellipse cx="151.00" cy="444.00" rx="1.5" ry="1.32" fill="#bd2850" stroke="#2a0510" stroke-width="0.8"/><ellipse cx="151.00" cy="448.00" rx="1.5" ry="1.32" fill="#bd2850" stroke="#2a0510" stroke-width="0.8"/><ellipse cx="151.00" cy="451.50" rx="1.5" ry="1.32" fill="#bd2850" stroke="#2a0510" stroke-width="0.8"/><ellipse cx="170.60" cy="423.50" rx="1.5" ry="1.32" fill="#4d69a0" stroke="#0a1225" stroke-width="0.8"/><ellipse cx="170.60" cy="428.00" rx="1.5" ry="1.32" fill="#4d69a0" stroke="#0a1225" stroke-width="0.8"/><ellipse cx="170.60" cy="433.00" rx="1.5" ry="1.32" fill="#4d69a0" stroke="#0a1225" stroke-width="0.8"/><ellipse cx="170.60" cy="436.00" rx="1.5" ry="1.32" fill="#4d69a0" stroke="#0a1225" stroke-width="0.8"/><ellipse cx="170.60" cy="438.50" rx="1.5" ry="1.32" fill="#4d69a0" stroke="#0a1225" stroke-width="0.8"/><ellipse cx="170.60" cy="443.00" rx="1.5" ry="1.32" fill="#4d69a0" stroke="#0a1225" stroke-width="0.8"/><ellipse cx="170.60" cy="452.00" rx="1.5" ry="1.32" fill="#4d69a0" stroke="#0a1225" stroke-width="0.8"/><ellipse cx="170.60" cy="455.00" rx="1.5" ry="1.32" fill="#4d69a0" stroke="#0a1225" stroke-width="0.8"/><ellipse cx="170.60" cy="457.50" rx="1.5" ry="1.32" fill="#4d69a0" stroke="#0a1225" stroke-width="0.8"/><path d="M131.20,404.30V402.30H171.10V404.30" fill="none" stroke="#111" stroke-width="0.95"/><text x="151.00" y="402.60" font-size="5.2" text-anchor="middle" font-weight="normal" font-style="normal" fill="#111" stroke="#111" stroke-width="0.3"  >*</text><path d="M131.20,411.70V409.70H151.00V411.70" fill="none" stroke="#111" stroke-width="0.95"/><text x="141.30" y="410.00" font-size="5.2" text-anchor="middle" font-weight="normal" font-style="normal" fill="#111" stroke="#111" stroke-width="0.3"  >*</text><rect x="210.30" y="414.70" width="14.60" height="31.50" fill="#d97b93"/><rect x="229.90" y="419.90" width="14.20" height="6.70" fill="#97a9c9"/><path d="M197.5,425.4L217.4,405.0L236.8,419.0M197.5,425.4L217.4,401.0L236.8,413.5M197.5,425.4L217.4,409.5L236.8,423.0M197.5,425.4L217.4,436.0L236.8,416.5M197.5,425.4L217.4,420.0L236.8,416.5M197.5,425.4L217.4,432.0L236.8,421.0M197.5,425.4L217.4,414.0L236.8,411.0M197.5,425.4L217.4,453.5L236.8,429.0M197.5,425.4L217.4,451.0L236.8,425.0M197.5,425.4L217.4,446.0L236.8,427.0M197.5,425.4L217.4,456.5L236.8,425.0" fill="none" stroke="#747474" stroke-width="0.6" stroke-opacity="0.85"/><line x1="217.40" y1="401.00" x2="217.40" y2="414.70" stroke="#2a2a2a" stroke-width="1.2" /><line x1="217.40" y1="446.20" x2="217.40" y2="456.50" stroke="#2a2a2a" stroke-width="1.2" /><line x1="210.30" y1="426.60" x2="224.90" y2="426.60" stroke="#1a1a1a" stroke-width="1.35" /><line x1="236.80" y1="411.00" x2="236.80" y2="419.90" stroke="#2a2a2a" stroke-width="1.2" /><line x1="236.80" y1="426.60" x2="236.80" y2="429.00" stroke="#2a2a2a" stroke-width="1.2" /><line x1="229.90" y1="423.90" x2="244.10" y2="423.90" stroke="#1a1a1a" stroke-width="1.35" /><line x1="190.30" y1="425.40" x2="204.70" y2="425.40" stroke="#222" stroke-width="1.3" /><circle cx="197.50" cy="425.40" r="1.8" fill="#fff" stroke="#222" stroke-width="0.85"/><ellipse cx="217.40" cy="401.00" rx="1.5" ry="1.32" fill="#bd2850" stroke="#2a0510" stroke-width="0.8"/><ellipse cx="217.40" cy="405.00" rx="1.5" ry="1.32" fill="#bd2850" stroke="#2a0510" stroke-width="0.8"/><ellipse cx="217.40" cy="409.50" rx="1.5" ry="1.32" fill="#bd2850" stroke="#2a0510" stroke-width="0.8"/><ellipse cx="217.40" cy="414.00" rx="1.5" ry="1.32" fill="#bd2850" stroke="#2a0510" stroke-width="0.8"/><ellipse cx="217.40" cy="420.00" rx="1.5" ry="1.32" fill="#bd2850" stroke="#2a0510" stroke-width="0.8"/><ellipse cx="217.40" cy="432.00" rx="1.5" ry="1.32" fill="#bd2850" stroke="#2a0510" stroke-width="0.8"/><ellipse cx="217.40" cy="436.00" rx="1.5" ry="1.32" fill="#bd2850" stroke="#2a0510" stroke-width="0.8"/><ellipse cx="217.40" cy="446.00" rx="1.5" ry="1.32" fill="#bd2850" stroke="#2a0510" stroke-width="0.8"/><ellipse cx="217.40" cy="451.00" rx="1.5" ry="1.32" fill="#bd2850" stroke="#2a0510" stroke-width="0.8"/><ellipse cx="217.40" cy="453.50" rx="1.5" ry="1.32" fill="#bd2850" stroke="#2a0510" stroke-width="0.8"/><ellipse cx="217.40" cy="456.50" rx="1.5" ry="1.32" fill="#bd2850" stroke="#2a0510" stroke-width="0.8"/><ellipse cx="236.80" cy="411.00" rx="1.5" ry="1.32" fill="#4d69a0" stroke="#0a1225" stroke-width="0.8"/><ellipse cx="236.80" cy="413.50" rx="1.5" ry="1.32" fill="#4d69a0" stroke="#0a1225" stroke-width="0.8"/><ellipse cx="236.80" cy="416.50" rx="1.5" ry="1.32" fill="#4d69a0" stroke="#0a1225" stroke-width="0.8"/><ellipse cx="236.80" cy="419.00" rx="1.5" ry="1.32" fill="#4d69a0" stroke="#0a1225" stroke-width="0.8"/><ellipse cx="236.80" cy="421.00" rx="1.5" ry="1.32" fill="#4d69a0" stroke="#0a1225" stroke-width="0.8"/><ellipse cx="236.80" cy="423.00" rx="1.5" ry="1.32" fill="#4d69a0" stroke="#0a1225" stroke-width="0.8"/><ellipse cx="236.80" cy="425.00" rx="1.5" ry="1.32" fill="#4d69a0" stroke="#0a1225" stroke-width="0.8"/><ellipse cx="236.80" cy="427.00" rx="1.5" ry="1.32" fill="#4d69a0" stroke="#0a1225" stroke-width="0.8"/><ellipse cx="236.80" cy="429.00" rx="1.5" ry="1.32" fill="#4d69a0" stroke="#0a1225" stroke-width="0.8"/><text x="236.80" y="406.60" font-size="7.8" text-anchor="middle" font-weight="normal" font-style="normal" fill="#222" stroke="#222" stroke-width="0.1"  >ab</text><rect x="318.60" y="340.30" width="14.20" height="13.20" fill="#e2e2e2"/><rect x="338.30" y="339.40" width="14.60" height="15.90" fill="#d97b93"/><rect x="357.90" y="344.40" width="14.60" height="12.40" fill="#97a9c9"/><path d="M325.9,318.5L345.4,305.0L365.2,350.0M325.9,323.5L345.4,349.0L365.2,334.5M325.9,333.0L345.4,335.0L365.2,340.5M325.9,342.5L345.4,354.0L365.2,356.0M325.9,346.5L345.4,344.0L365.2,365.0M325.9,349.0L345.4,361.5L365.2,350.0M325.9,352.0L345.4,363.0L365.2,328.5M325.9,354.0L345.4,351.5L365.2,345.5M325.9,357.0L345.4,321.0L365.2,358.5M325.9,364.5L345.4,341.0L365.2,353.0" fill="none" stroke="#747474" stroke-width="0.6" stroke-opacity="0.85"/><line x1="325.90" y1="323.50" x2="325.90" y2="340.30" stroke="#333" stroke-width="1.2" /><line x1="325.90" y1="353.50" x2="325.90" y2="364.50" stroke="#333" stroke-width="1.2" /><line x1="318.60" y1="349.50" x2="332.80" y2="349.50" stroke="#3a3a3a" stroke-width="1.35" /><line x1="345.40" y1="321.00" x2="345.40" y2="339.40" stroke="#2a2a2a" stroke-width="1.2" /><line x1="345.40" y1="355.30" x2="345.40" y2="363.00" stroke="#2a2a2a" stroke-width="1.2" /><line x1="338.30" y1="350.40" x2="352.90" y2="350.40" stroke="#1a1a1a" stroke-width="1.35" /><line x1="365.20" y1="328.50" x2="365.20" y2="344.40" stroke="#2a2a2a" stroke-width="1.2" /><line x1="365.20" y1="356.80" x2="365.20" y2="365.00" stroke="#2a2a2a" stroke-width="1.2" /><line x1="357.90" y1="352.20" x2="372.50" y2="352.20" stroke="#1a1a1a" stroke-width="1.35" /><ellipse cx="325.90" cy="318.50" rx="1.5" ry="1.32" fill="#e6e6e6" fill-opacity="0.25" stroke="#2e2e2e" stroke-width="0.8"/><ellipse cx="325.90" cy="323.50" rx="1.5" ry="1.32" fill="#e6e6e6" fill-opacity="0.25" stroke="#2e2e2e" stroke-width="0.8"/><ellipse cx="325.90" cy="333.00" rx="1.5" ry="1.32" fill="#e6e6e6" fill-opacity="0.25" stroke="#2e2e2e" stroke-width="0.8"/><ellipse cx="325.90" cy="342.50" rx="1.5" ry="1.32" fill="#e6e6e6" fill-opacity="0.25" stroke="#2e2e2e" stroke-width="0.8"/><ellipse cx="325.90" cy="346.50" rx="1.5" ry="1.32" fill="#e6e6e6" fill-opacity="0.25" stroke="#2e2e2e" stroke-width="0.8"/><ellipse cx="325.90" cy="349.00" rx="1.5" ry="1.32" fill="#e6e6e6" fill-opacity="0.25" stroke="#2e2e2e" stroke-width="0.8"/><ellipse cx="325.90" cy="352.00" rx="1.5" ry="1.32" fill="#e6e6e6" fill-opacity="0.25" stroke="#2e2e2e" stroke-width="0.8"/><ellipse cx="325.90" cy="354.00" rx="1.5" ry="1.32" fill="#e6e6e6" fill-opacity="0.25" stroke="#2e2e2e" stroke-width="0.8"/><ellipse cx="325.90" cy="357.00" rx="1.5" ry="1.32" fill="#e6e6e6" fill-opacity="0.25" stroke="#2e2e2e" stroke-width="0.8"/><ellipse cx="325.90" cy="364.50" rx="1.5" ry="1.32" fill="#e6e6e6" fill-opacity="0.25" stroke="#2e2e2e" stroke-width="0.8"/><ellipse cx="345.40" cy="305.00" rx="1.5" ry="1.32" fill="#bd2850" stroke="#2a0510" stroke-width="0.8"/><ellipse cx="345.40" cy="321.00" rx="1.5" ry="1.32" fill="#bd2850" stroke="#2a0510" stroke-width="0.8"/><ellipse cx="345.40" cy="335.00" rx="1.5" ry="1.32" fill="#bd2850" stroke="#2a0510" stroke-width="0.8"/><ellipse cx="345.40" cy="341.00" rx="1.5" ry="1.32" fill="#bd2850" stroke="#2a0510" stroke-width="0.8"/><ellipse cx="345.40" cy="344.00" rx="1.5" ry="1.32" fill="#bd2850" stroke="#2a0510" stroke-width="0.8"/><ellipse cx="345.40" cy="349.00" rx="1.5" ry="1.32" fill="#bd2850" stroke="#2a0510" stroke-width="0.8"/><ellipse cx="345.40" cy="351.50" rx="1.5" ry="1.32" fill="#bd2850" stroke="#2a0510" stroke-width="0.8"/><ellipse cx="345.40" cy="354.00" rx="1.5" ry="1.32" fill="#bd2850" stroke="#2a0510" stroke-width="0.8"/><ellipse cx="345.40" cy="361.50" rx="1.5" ry="1.32" fill="#bd2850" stroke="#2a0510" stroke-width="0.8"/><ellipse cx="345.40" cy="363.00" rx="1.5" ry="1.32" fill="#bd2850" stroke="#2a0510" stroke-width="0.8"/><ellipse cx="365.20" cy="328.50" rx="1.5" ry="1.32" fill="#4d69a0" stroke="#0a1225" stroke-width="0.8"/><ellipse cx="365.20" cy="334.50" rx="1.5" ry="1.32" fill="#4d69a0" stroke="#0a1225" stroke-width="0.8"/><ellipse cx="365.20" cy="340.50" rx="1.5" ry="1.32" fill="#4d69a0" stroke="#0a1225" stroke-width="0.8"/><ellipse cx="365.20" cy="345.50" rx="1.5" ry="1.32" fill="#4d69a0" stroke="#0a1225" stroke-width="0.8"/><ellipse cx="365.20" cy="350.00" rx="1.5" ry="1.32" fill="#4d69a0" stroke="#0a1225" stroke-width="0.8"/><ellipse cx="365.20" cy="353.00" rx="1.5" ry="1.32" fill="#4d69a0" stroke="#0a1225" stroke-width="0.8"/><ellipse cx="365.20" cy="356.00" rx="1.5" ry="1.32" fill="#4d69a0" stroke="#0a1225" stroke-width="0.8"/><ellipse cx="365.20" cy="358.50" rx="1.5" ry="1.32" fill="#4d69a0" stroke="#0a1225" stroke-width="0.8"/><ellipse cx="365.20" cy="365.00" rx="1.5" ry="1.32" fill="#4d69a0" stroke="#0a1225" stroke-width="0.8"/><rect x="385.70" y="332.50" width="14.60" height="17.30" fill="#e2e2e2"/><rect x="405.40" y="322.00" width="14.60" height="30.80" fill="#d97b93"/><rect x="425.20" y="344.90" width="14.40" height="11.90" fill="#97a9c9"/><path d="M393.0,302.0L412.4,319.0L432.3,312.0M393.0,318.0L412.4,336.5L432.3,347.5M393.0,324.0L412.4,308.5L432.3,338.5M393.0,327.5L412.4,323.5L432.3,338.5M393.0,331.0L412.4,317.0L432.3,344.0M393.0,334.0L412.4,351.0L432.3,323.5M393.0,337.5L412.4,329.5L432.3,347.5M393.0,337.5L412.4,344.0L432.3,359.5M393.0,340.0L412.4,356.5L432.3,350.5M393.0,345.0L412.4,333.5L432.3,353.0M393.0,348.5L412.4,353.0L432.3,359.5M393.0,355.0L412.4,346.5L432.3,362.5M393.0,360.5L412.4,361.0L432.3,356.0" fill="none" stroke="#747474" stroke-width="0.6" stroke-opacity="0.85"/><line x1="393.00" y1="318.00" x2="393.00" y2="332.50" stroke="#333" stroke-width="1.2" /><line x1="393.00" y1="349.80" x2="393.00" y2="360.50" stroke="#333" stroke-width="1.2" /><line x1="385.70" y1="344.40" x2="400.30" y2="344.40" stroke="#3a3a3a" stroke-width="1.35" /><line x1="412.40" y1="308.50" x2="412.40" y2="322.00" stroke="#2a2a2a" stroke-width="1.2" /><line x1="412.40" y1="352.80" x2="412.40" y2="361.00" stroke="#2a2a2a" stroke-width="1.2" /><line x1="405.40" y1="340.00" x2="420.00" y2="340.00" stroke="#1a1a1a" stroke-width="1.35" /><line x1="432.30" y1="338.50" x2="432.30" y2="344.90" stroke="#2a2a2a" stroke-width="1.2" /><line x1="432.30" y1="356.80" x2="432.30" y2="362.50" stroke="#2a2a2a" stroke-width="1.2" /><line x1="425.20" y1="352.20" x2="439.60" y2="352.20" stroke="#1a1a1a" stroke-width="1.35" /><ellipse cx="393.00" cy="302.00" rx="1.5" ry="1.32" fill="#e6e6e6" fill-opacity="0.25" stroke="#2e2e2e" stroke-width="0.8"/><ellipse cx="393.00" cy="318.00" rx="1.5" ry="1.32" fill="#e6e6e6" fill-opacity="0.25" stroke="#2e2e2e" stroke-width="0.8"/><ellipse cx="393.00" cy="324.00" rx="1.5" ry="1.32" fill="#e6e6e6" fill-opacity="0.25" stroke="#2e2e2e" stroke-width="0.8"/><ellipse cx="393.00" cy="327.50" rx="1.5" ry="1.32" fill="#e6e6e6" fill-opacity="0.25" stroke="#2e2e2e" stroke-width="0.8"/><ellipse cx="393.00" cy="331.00" rx="1.5" ry="1.32" fill="#e6e6e6" fill-opacity="0.25" stroke="#2e2e2e" stroke-width="0.8"/><ellipse cx="393.00" cy="334.00" rx="1.5" ry="1.32" fill="#e6e6e6" fill-opacity="0.25" stroke="#2e2e2e" stroke-width="0.8"/><ellipse cx="393.00" cy="337.50" rx="1.5" ry="1.32" fill="#e6e6e6" fill-opacity="0.25" stroke="#2e2e2e" stroke-width="0.8"/><ellipse cx="393.00" cy="340.00" rx="1.5" ry="1.32" fill="#e6e6e6" fill-opacity="0.25" stroke="#2e2e2e" stroke-width="0.8"/><ellipse cx="393.00" cy="345.00" rx="1.5" ry="1.32" fill="#e6e6e6" fill-opacity="0.25" stroke="#2e2e2e" stroke-width="0.8"/><ellipse cx="393.00" cy="348.50" rx="1.5" ry="1.32" fill="#e6e6e6" fill-opacity="0.25" stroke="#2e2e2e" stroke-width="0.8"/><ellipse cx="393.00" cy="355.00" rx="1.5" ry="1.32" fill="#e6e6e6" fill-opacity="0.25" stroke="#2e2e2e" stroke-width="0.8"/><ellipse cx="393.00" cy="360.50" rx="1.5" ry="1.32" fill="#e6e6e6" fill-opacity="0.25" stroke="#2e2e2e" stroke-width="0.8"/><ellipse cx="412.40" cy="308.50" rx="1.5" ry="1.32" fill="#bd2850" stroke="#2a0510" stroke-width="0.8"/><ellipse cx="412.40" cy="317.00" rx="1.5" ry="1.32" fill="#bd2850" stroke="#2a0510" stroke-width="0.8"/><ellipse cx="412.40" cy="319.00" rx="1.5" ry="1.32" fill="#bd2850" stroke="#2a0510" stroke-width="0.8"/><ellipse cx="412.40" cy="323.50" rx="1.5" ry="1.32" fill="#bd2850" stroke="#2a0510" stroke-width="0.8"/><ellipse cx="412.40" cy="329.50" rx="1.5" ry="1.32" fill="#bd2850" stroke="#2a0510" stroke-width="0.8"/><ellipse cx="412.40" cy="333.50" rx="1.5" ry="1.32" fill="#bd2850" stroke="#2a0510" stroke-width="0.8"/><ellipse cx="412.40" cy="336.50" rx="1.5" ry="1.32" fill="#bd2850" stroke="#2a0510" stroke-width="0.8"/><ellipse cx="412.40" cy="344.00" rx="1.5" ry="1.32" fill="#bd2850" stroke="#2a0510" stroke-width="0.8"/><ellipse cx="412.40" cy="346.50" rx="1.5" ry="1.32" fill="#bd2850" stroke="#2a0510" stroke-width="0.8"/><ellipse cx="412.40" cy="351.00" rx="1.5" ry="1.32" fill="#bd2850" stroke="#2a0510" stroke-width="0.8"/><ellipse cx="412.40" cy="353.00" rx="1.5" ry="1.32" fill="#bd2850" stroke="#2a0510" stroke-width="0.8"/><ellipse cx="412.40" cy="356.50" rx="1.5" ry="1.32" fill="#bd2850" stroke="#2a0510" stroke-width="0.8"/><ellipse cx="412.40" cy="361.00" rx="1.5" ry="1.32" fill="#bd2850" stroke="#2a0510" stroke-width="0.8"/><ellipse cx="432.30" cy="312.00" rx="1.5" ry="1.32" fill="#4d69a0" stroke="#0a1225" stroke-width="0.8"/><ellipse cx="432.30" cy="323.50" rx="1.5" ry="1.32" fill="#4d69a0" stroke="#0a1225" stroke-width="0.8"/><ellipse cx="432.30" cy="338.50" rx="1.5" ry="1.32" fill="#4d69a0" stroke="#0a1225" stroke-width="0.8"/><ellipse cx="432.30" cy="344.00" rx="1.5" ry="1.32" fill="#4d69a0" stroke="#0a1225" stroke-width="0.8"/><ellipse cx="432.30" cy="347.50" rx="1.5" ry="1.32" fill="#4d69a0" stroke="#0a1225" stroke-width="0.8"/><ellipse cx="432.30" cy="350.50" rx="1.5" ry="1.32" fill="#4d69a0" stroke="#0a1225" stroke-width="0.8"/><ellipse cx="432.30" cy="353.00" rx="1.5" ry="1.32" fill="#4d69a0" stroke="#0a1225" stroke-width="0.8"/><ellipse cx="432.30" cy="356.00" rx="1.5" ry="1.32" fill="#4d69a0" stroke="#0a1225" stroke-width="0.8"/><ellipse cx="432.30" cy="359.50" rx="1.5" ry="1.32" fill="#4d69a0" stroke="#0a1225" stroke-width="0.8"/><ellipse cx="432.30" cy="362.50" rx="1.5" ry="1.32" fill="#4d69a0" stroke="#0a1225" stroke-width="0.8"/><rect x="452.50" y="322.10" width="14.60" height="27.50" fill="#e2e2e2"/><rect x="472.30" y="319.40" width="14.60" height="30.20" fill="#d97b93"/><rect x="491.90" y="327.10" width="15.00" height="26.70" fill="#97a9c9"/><path d="M459.8,308.5L479.6,312.5L499.4,325.0M459.8,313.0L479.6,305.0L499.4,316.0M459.8,322.0L479.6,301.5L499.4,319.0M459.8,322.0L479.6,326.5L499.4,325.0M459.8,324.5L479.6,307.5L499.4,342.0M459.8,334.5L479.6,324.0L499.4,331.5M459.8,340.0L479.6,317.5L499.4,356.5M459.8,343.5L479.6,330.5L499.4,302.5M459.8,343.5L479.6,337.5L499.4,345.0M459.8,345.5L479.6,352.5L499.4,338.5M459.8,351.5L479.6,344.5L499.4,351.0M459.8,355.0L479.6,350.0L499.4,363.0M459.8,359.0L479.6,346.5L499.4,353.5M459.8,359.0L479.6,355.5L499.4,348.0M459.8,363.0L479.6,358.5L499.4,360.0M459.8,364.5L479.6,364.0L499.4,353.5" fill="none" stroke="#747474" stroke-width="0.6" stroke-opacity="0.85"/><line x1="459.80" y1="308.50" x2="459.80" y2="322.10" stroke="#333" stroke-width="1.2" /><line x1="459.80" y1="349.60" x2="459.80" y2="364.50" stroke="#333" stroke-width="1.2" /><line x1="452.50" y1="341.00" x2="467.10" y2="341.00" stroke="#3a3a3a" stroke-width="1.35" /><line x1="479.60" y1="301.50" x2="479.60" y2="319.40" stroke="#2a2a2a" stroke-width="1.2" /><line x1="479.60" y1="349.60" x2="479.60" y2="364.00" stroke="#2a2a2a" stroke-width="1.2" /><line x1="472.30" y1="337.70" x2="486.90" y2="337.70" stroke="#1a1a1a" stroke-width="1.35" /><line x1="499.40" y1="302.50" x2="499.40" y2="327.10" stroke="#2a2a2a" stroke-width="1.2" /><line x1="499.40" y1="353.80" x2="499.40" y2="363.00" stroke="#2a2a2a" stroke-width="1.2" /><line x1="491.90" y1="347.40" x2="506.90" y2="347.40" stroke="#1a1a1a" stroke-width="1.35" /><ellipse cx="459.80" cy="308.50" rx="1.5" ry="1.32" fill="#e6e6e6" fill-opacity="0.25" stroke="#2e2e2e" stroke-width="0.8"/><ellipse cx="459.80" cy="313.00" rx="1.5" ry="1.32" fill="#e6e6e6" fill-opacity="0.25" stroke="#2e2e2e" stroke-width="0.8"/><ellipse cx="459.80" cy="322.00" rx="1.5" ry="1.32" fill="#e6e6e6" fill-opacity="0.25" stroke="#2e2e2e" stroke-width="0.8"/><ellipse cx="459.80" cy="324.50" rx="1.5" ry="1.32" fill="#e6e6e6" fill-opacity="0.25" stroke="#2e2e2e" stroke-width="0.8"/><ellipse cx="459.80" cy="334.50" rx="1.5" ry="1.32" fill="#e6e6e6" fill-opacity="0.25" stroke="#2e2e2e" stroke-width="0.8"/><ellipse cx="459.80" cy="340.00" rx="1.5" ry="1.32" fill="#e6e6e6" fill-opacity="0.25" stroke="#2e2e2e" stroke-width="0.8"/><ellipse cx="459.80" cy="343.50" rx="1.5" ry="1.32" fill="#e6e6e6" fill-opacity="0.25" stroke="#2e2e2e" stroke-width="0.8"/><ellipse cx="459.80" cy="345.50" rx="1.5" ry="1.32" fill="#e6e6e6" fill-opacity="0.25" stroke="#2e2e2e" stroke-width="0.8"/><ellipse cx="459.80" cy="351.50" rx="1.5" ry="1.32" fill="#e6e6e6" fill-opacity="0.25" stroke="#2e2e2e" stroke-width="0.8"/><ellipse cx="459.80" cy="355.00" rx="1.5" ry="1.32" fill="#e6e6e6" fill-opacity="0.25" stroke="#2e2e2e" stroke-width="0.8"/><ellipse cx="459.80" cy="359.00" rx="1.5" ry="1.32" fill="#e6e6e6" fill-opacity="0.25" stroke="#2e2e2e" stroke-width="0.8"/><ellipse cx="459.80" cy="363.00" rx="1.5" ry="1.32" fill="#e6e6e6" fill-opacity="0.25" stroke="#2e2e2e" stroke-width="0.8"/><ellipse cx="459.80" cy="364.50" rx="1.5" ry="1.32" fill="#e6e6e6" fill-opacity="0.25" stroke="#2e2e2e" stroke-width="0.8"/><ellipse cx="479.60" cy="301.50" rx="1.5" ry="1.32" fill="#bd2850" stroke="#2a0510" stroke-width="0.8"/><ellipse cx="479.60" cy="305.00" rx="1.5" ry="1.32" fill="#bd2850" stroke="#2a0510" stroke-width="0.8"/><ellipse cx="479.60" cy="307.50" rx="1.5" ry="1.32" fill="#bd2850" stroke="#2a0510" stroke-width="0.8"/><ellipse cx="479.60" cy="312.50" rx="1.5" ry="1.32" fill="#bd2850" stroke="#2a0510" stroke-width="0.8"/><ellipse cx="479.60" cy="317.50" rx="1.5" ry="1.32" fill="#bd2850" stroke="#2a0510" stroke-width="0.8"/><ellipse cx="479.60" cy="324.00" rx="1.5" ry="1.32" fill="#bd2850" stroke="#2a0510" stroke-width="0.8"/><ellipse cx="479.60" cy="326.50" rx="1.5" ry="1.32" fill="#bd2850" stroke="#2a0510" stroke-width="0.8"/><ellipse cx="479.60" cy="330.50" rx="1.5" ry="1.32" fill="#bd2850" stroke="#2a0510" stroke-width="0.8"/><ellipse cx="479.60" cy="337.50" rx="1.5" ry="1.32" fill="#bd2850" stroke="#2a0510" stroke-width="0.8"/><ellipse cx="479.60" cy="344.50" rx="1.5" ry="1.32" fill="#bd2850" stroke="#2a0510" stroke-width="0.8"/><ellipse cx="479.60" cy="346.50" rx="1.5" ry="1.32" fill="#bd2850" stroke="#2a0510" stroke-width="0.8"/><ellipse cx="479.60" cy="350.00" rx="1.5" ry="1.32" fill="#bd2850" stroke="#2a0510" stroke-width="0.8"/><ellipse cx="479.60" cy="352.50" rx="1.5" ry="1.32" fill="#bd2850" stroke="#2a0510" stroke-width="0.8"/><ellipse cx="479.60" cy="355.50" rx="1.5" ry="1.32" fill="#bd2850" stroke="#2a0510" stroke-width="0.8"/><ellipse cx="479.60" cy="358.50" rx="1.5" ry="1.32" fill="#bd2850" stroke="#2a0510" stroke-width="0.8"/><ellipse cx="479.60" cy="364.00" rx="1.5" ry="1.32" fill="#bd2850" stroke="#2a0510" stroke-width="0.8"/><ellipse cx="499.40" cy="302.50" rx="1.5" ry="1.32" fill="#4d69a0" stroke="#0a1225" stroke-width="0.8"/><ellipse cx="499.40" cy="316.00" rx="1.5" ry="1.32" fill="#4d69a0" stroke="#0a1225" stroke-width="0.8"/><ellipse cx="499.40" cy="319.00" rx="1.5" ry="1.32" fill="#4d69a0" stroke="#0a1225" stroke-width="0.8"/><ellipse cx="499.40" cy="325.00" rx="1.5" ry="1.32" fill="#4d69a0" stroke="#0a1225" stroke-width="0.8"/><ellipse cx="499.40" cy="331.50" rx="1.5" ry="1.32" fill="#4d69a0" stroke="#0a1225" stroke-width="0.8"/><ellipse cx="499.40" cy="338.50" rx="1.5" ry="1.32" fill="#4d69a0" stroke="#0a1225" stroke-width="0.8"/><ellipse cx="499.40" cy="342.00" rx="1.5" ry="1.32" fill="#4d69a0" stroke="#0a1225" stroke-width="0.8"/><ellipse cx="499.40" cy="345.00" rx="1.5" ry="1.32" fill="#4d69a0" stroke="#0a1225" stroke-width="0.8"/><ellipse cx="499.40" cy="348.00" rx="1.5" ry="1.32" fill="#4d69a0" stroke="#0a1225" stroke-width="0.8"/><ellipse cx="499.40" cy="351.00" rx="1.5" ry="1.32" fill="#4d69a0" stroke="#0a1225" stroke-width="0.8"/><ellipse cx="499.40" cy="353.50" rx="1.5" ry="1.32" fill="#4d69a0" stroke="#0a1225" stroke-width="0.8"/><ellipse cx="499.40" cy="356.50" rx="1.5" ry="1.32" fill="#4d69a0" stroke="#0a1225" stroke-width="0.8"/><ellipse cx="499.40" cy="360.00" rx="1.5" ry="1.32" fill="#4d69a0" stroke="#0a1225" stroke-width="0.8"/><ellipse cx="499.40" cy="363.00" rx="1.5" ry="1.32" fill="#4d69a0" stroke="#0a1225" stroke-width="0.8"/><rect x="338.30" y="435.20" width="14.60" height="12.80" fill="#d97b93"/><rect x="357.90" y="443.10" width="14.60" height="9.10" fill="#97a9c9"/><path d="M325.9,440.8L345.4,434.5L365.2,437.0M325.9,440.8L345.4,437.0L365.2,447.5M325.9,440.8L345.4,423.5L365.2,442.5M325.9,440.8L345.4,444.0L365.2,445.0M325.9,440.8L345.4,439.5L365.2,440.0M325.9,440.8L345.4,441.5L365.2,460.0M325.9,440.8L345.4,428.0L365.2,452.5M325.9,440.8L345.4,446.5L365.2,455.0M325.9,440.8L345.4,456.5L365.2,450.0M325.9,440.8L345.4,459.5L365.2,458.0" fill="none" stroke="#747474" stroke-width="0.6" stroke-opacity="0.85"/><line x1="345.40" y1="423.50" x2="345.40" y2="435.20" stroke="#2a2a2a" stroke-width="1.2" /><line x1="345.40" y1="448.00" x2="345.40" y2="459.50" stroke="#2a2a2a" stroke-width="1.2" /><line x1="338.30" y1="442.50" x2="352.90" y2="442.50" stroke="#1a1a1a" stroke-width="1.35" /><line x1="365.20" y1="437.00" x2="365.20" y2="443.10" stroke="#2a2a2a" stroke-width="1.2" /><line x1="365.20" y1="452.20" x2="365.20" y2="460.00" stroke="#2a2a2a" stroke-width="1.2" /><line x1="357.90" y1="446.40" x2="372.50" y2="446.40" stroke="#1a1a1a" stroke-width="1.35" /><line x1="318.70" y1="440.80" x2="333.10" y2="440.80" stroke="#222" stroke-width="1.3" /><circle cx="325.90" cy="440.80" r="1.8" fill="#fff" stroke="#222" stroke-width="0.85"/><ellipse cx="345.40" cy="423.50" rx="1.5" ry="1.32" fill="#bd2850" stroke="#2a0510" stroke-width="0.8"/><ellipse cx="345.40" cy="428.00" rx="1.5" ry="1.32" fill="#bd2850" stroke="#2a0510" stroke-width="0.8"/><ellipse cx="345.40" cy="434.50" rx="1.5" ry="1.32" fill="#bd2850" stroke="#2a0510" stroke-width="0.8"/><ellipse cx="345.40" cy="437.00" rx="1.5" ry="1.32" fill="#bd2850" stroke="#2a0510" stroke-width="0.8"/><ellipse cx="345.40" cy="439.50" rx="1.5" ry="1.32" fill="#bd2850" stroke="#2a0510" stroke-width="0.8"/><ellipse cx="345.40" cy="441.50" rx="1.5" ry="1.32" fill="#bd2850" stroke="#2a0510" stroke-width="0.8"/><ellipse cx="345.40" cy="444.00" rx="1.5" ry="1.32" fill="#bd2850" stroke="#2a0510" stroke-width="0.8"/><ellipse cx="345.40" cy="446.50" rx="1.5" ry="1.32" fill="#bd2850" stroke="#2a0510" stroke-width="0.8"/><ellipse cx="345.40" cy="456.50" rx="1.5" ry="1.32" fill="#bd2850" stroke="#2a0510" stroke-width="0.8"/><ellipse cx="345.40" cy="459.50" rx="1.5" ry="1.32" fill="#bd2850" stroke="#2a0510" stroke-width="0.8"/><ellipse cx="365.20" cy="437.00" rx="1.5" ry="1.32" fill="#4d69a0" stroke="#0a1225" stroke-width="0.8"/><ellipse cx="365.20" cy="440.00" rx="1.5" ry="1.32" fill="#4d69a0" stroke="#0a1225" stroke-width="0.8"/><ellipse cx="365.20" cy="442.50" rx="1.5" ry="1.32" fill="#4d69a0" stroke="#0a1225" stroke-width="0.8"/><ellipse cx="365.20" cy="445.00" rx="1.5" ry="1.32" fill="#4d69a0" stroke="#0a1225" stroke-width="0.8"/><ellipse cx="365.20" cy="447.50" rx="1.5" ry="1.32" fill="#4d69a0" stroke="#0a1225" stroke-width="0.8"/><ellipse cx="365.20" cy="450.00" rx="1.5" ry="1.32" fill="#4d69a0" stroke="#0a1225" stroke-width="0.8"/><ellipse cx="365.20" cy="452.50" rx="1.5" ry="1.32" fill="#4d69a0" stroke="#0a1225" stroke-width="0.8"/><ellipse cx="365.20" cy="455.00" rx="1.5" ry="1.32" fill="#4d69a0" stroke="#0a1225" stroke-width="0.8"/><ellipse cx="365.20" cy="458.00" rx="1.5" ry="1.32" fill="#4d69a0" stroke="#0a1225" stroke-width="0.8"/><ellipse cx="365.20" cy="460.00" rx="1.5" ry="1.32" fill="#4d69a0" stroke="#0a1225" stroke-width="0.8"/><path d="M325.30,422.60V420.60H365.60V422.60" fill="none" stroke="#111" stroke-width="0.95"/><text x="345.40" y="420.90" font-size="5.2" text-anchor="middle" font-weight="normal" font-style="normal" fill="#111" stroke="#111" stroke-width="0.3"  >*</text><rect x="405.40" y="435.80" width="14.60" height="9.10" fill="#d97b93"/><rect x="425.20" y="451.30" width="15.00" height="6.40" fill="#97a9c9"/><path d="M393.0,440.8L412.4,401.5L432.3,445.5M393.0,440.8L412.4,415.0L432.3,441.0M393.0,440.8L412.4,437.5L432.3,435.5M393.0,440.8L412.4,431.0L432.3,448.5M393.0,440.8L412.4,440.0L432.3,454.0M393.0,440.8L412.4,445.5L432.3,456.5M393.0,440.8L412.4,426.0L432.3,451.5M393.0,440.8L412.4,442.5L432.3,451.5M393.0,440.8L412.4,435.0L432.3,459.0M393.0,440.8L412.4,448.0L432.3,463.0" fill="none" stroke="#747474" stroke-width="0.6" stroke-opacity="0.85"/><line x1="412.40" y1="426.00" x2="412.40" y2="435.80" stroke="#2a2a2a" stroke-width="1.2" /><line x1="412.40" y1="444.90" x2="412.40" y2="448.00" stroke="#2a2a2a" stroke-width="1.2" /><line x1="405.40" y1="440.00" x2="420.00" y2="440.00" stroke="#1a1a1a" stroke-width="1.35" /><line x1="432.30" y1="445.50" x2="432.30" y2="451.30" stroke="#2a2a2a" stroke-width="1.2" /><line x1="432.30" y1="457.70" x2="432.30" y2="463.00" stroke="#2a2a2a" stroke-width="1.2" /><line x1="425.20" y1="454.60" x2="440.20" y2="454.60" stroke="#1a1a1a" stroke-width="1.35" /><line x1="385.80" y1="440.80" x2="400.20" y2="440.80" stroke="#222" stroke-width="1.3" /><circle cx="393.00" cy="440.80" r="1.8" fill="#fff" stroke="#222" stroke-width="0.85"/><ellipse cx="412.40" cy="401.50" rx="1.5" ry="1.32" fill="#bd2850" stroke="#2a0510" stroke-width="0.8"/><ellipse cx="412.40" cy="415.00" rx="1.5" ry="1.32" fill="#bd2850" stroke="#2a0510" stroke-width="0.8"/><ellipse cx="412.40" cy="426.00" rx="1.5" ry="1.32" fill="#bd2850" stroke="#2a0510" stroke-width="0.8"/><ellipse cx="412.40" cy="431.00" rx="1.5" ry="1.32" fill="#bd2850" stroke="#2a0510" stroke-width="0.8"/><ellipse cx="412.40" cy="435.00" rx="1.5" ry="1.32" fill="#bd2850" stroke="#2a0510" stroke-width="0.8"/><ellipse cx="412.40" cy="437.50" rx="1.5" ry="1.32" fill="#bd2850" stroke="#2a0510" stroke-width="0.8"/><ellipse cx="412.40" cy="440.00" rx="1.5" ry="1.32" fill="#bd2850" stroke="#2a0510" stroke-width="0.8"/><ellipse cx="412.40" cy="442.50" rx="1.5" ry="1.32" fill="#bd2850" stroke="#2a0510" stroke-width="0.8"/><ellipse cx="412.40" cy="445.50" rx="1.5" ry="1.32" fill="#bd2850" stroke="#2a0510" stroke-width="0.8"/><ellipse cx="412.40" cy="448.00" rx="1.5" ry="1.32" fill="#bd2850" stroke="#2a0510" stroke-width="0.8"/><ellipse cx="432.30" cy="435.50" rx="1.5" ry="1.32" fill="#4d69a0" stroke="#0a1225" stroke-width="0.8"/><ellipse cx="432.30" cy="441.00" rx="1.5" ry="1.32" fill="#4d69a0" stroke="#0a1225" stroke-width="0.8"/><ellipse cx="432.30" cy="445.50" rx="1.5" ry="1.32" fill="#4d69a0" stroke="#0a1225" stroke-width="0.8"/><ellipse cx="432.30" cy="448.50" rx="1.5" ry="1.32" fill="#4d69a0" stroke="#0a1225" stroke-width="0.8"/><ellipse cx="432.30" cy="451.50" rx="1.5" ry="1.32" fill="#4d69a0" stroke="#0a1225" stroke-width="0.8"/><ellipse cx="432.30" cy="454.00" rx="1.5" ry="1.32" fill="#4d69a0" stroke="#0a1225" stroke-width="0.8"/><ellipse cx="432.30" cy="456.50" rx="1.5" ry="1.32" fill="#4d69a0" stroke="#0a1225" stroke-width="0.8"/><ellipse cx="432.30" cy="459.00" rx="1.5" ry="1.32" fill="#4d69a0" stroke="#0a1225" stroke-width="0.8"/><ellipse cx="432.30" cy="463.00" rx="1.5" ry="1.32" fill="#4d69a0" stroke="#0a1225" stroke-width="0.8"/><path d="M412.40,392.10V390.10H432.50V392.10" fill="none" stroke="#111" stroke-width="0.95"/><text x="422.20" y="390.40" font-size="5.2" text-anchor="middle" font-weight="normal" font-style="normal" fill="#111" stroke="#111" stroke-width="0.3"  >*</text><path d="M392.60,400.30V398.30H432.50V400.30" fill="none" stroke="#111" stroke-width="0.95"/><text x="412.40" y="398.60" font-size="5.2" text-anchor="middle" font-weight="normal" font-style="normal" fill="#111" stroke="#111" stroke-width="0.3"  >*</text><rect x="472.60" y="432.20" width="14.70" height="12.80" fill="#d97b93"/><rect x="492.40" y="434.00" width="15.00" height="20.20" fill="#97a9c9"/><path d="M459.8,440.8L480.0,425.5L499.7,433.0M459.8,440.8L480.0,415.0L499.7,424.0M459.8,440.8L480.0,439.0L499.7,437.0M459.8,440.8L480.0,431.5L499.7,407.0M459.8,440.8L480.0,405.0L499.7,429.0M459.8,440.8L480.0,447.0L499.7,441.0M459.8,440.8L480.0,434.0L499.7,444.0M459.8,440.8L480.0,441.0L499.7,447.5M459.8,440.8L480.0,451.0L499.7,459.0M459.8,440.8L480.0,436.5L499.7,465.0M459.8,440.8L480.0,453.5L499.7,450.5M459.8,440.8L480.0,443.5L499.7,454.5" fill="none" stroke="#747474" stroke-width="0.6" stroke-opacity="0.85"/><line x1="480.00" y1="415.00" x2="480.00" y2="432.20" stroke="#2a2a2a" stroke-width="1.2" /><line x1="480.00" y1="445.00" x2="480.00" y2="453.50" stroke="#2a2a2a" stroke-width="1.2" /><line x1="472.60" y1="437.30" x2="487.30" y2="437.30" stroke="#1a1a1a" stroke-width="1.35" /><line x1="499.70" y1="407.00" x2="499.70" y2="434.00" stroke="#2a2a2a" stroke-width="1.2" /><line x1="499.70" y1="454.20" x2="499.70" y2="465.00" stroke="#2a2a2a" stroke-width="1.2" /><line x1="492.40" y1="444.10" x2="507.40" y2="444.10" stroke="#1a1a1a" stroke-width="1.35" /><line x1="452.60" y1="440.80" x2="467.00" y2="440.80" stroke="#222" stroke-width="1.3" /><circle cx="459.80" cy="440.80" r="1.8" fill="#fff" stroke="#222" stroke-width="0.85"/><ellipse cx="480.00" cy="405.00" rx="1.5" ry="1.32" fill="#bd2850" stroke="#2a0510" stroke-width="0.8"/><ellipse cx="480.00" cy="415.00" rx="1.5" ry="1.32" fill="#bd2850" stroke="#2a0510" stroke-width="0.8"/><ellipse cx="480.00" cy="425.50" rx="1.5" ry="1.32" fill="#bd2850" stroke="#2a0510" stroke-width="0.8"/><ellipse cx="480.00" cy="431.50" rx="1.5" ry="1.32" fill="#bd2850" stroke="#2a0510" stroke-width="0.8"/><ellipse cx="480.00" cy="434.00" rx="1.5" ry="1.32" fill="#bd2850" stroke="#2a0510" stroke-width="0.8"/><ellipse cx="480.00" cy="436.50" rx="1.5" ry="1.32" fill="#bd2850" stroke="#2a0510" stroke-width="0.8"/><ellipse cx="480.00" cy="439.00" rx="1.5" ry="1.32" fill="#bd2850" stroke="#2a0510" stroke-width="0.8"/><ellipse cx="480.00" cy="441.00" rx="1.5" ry="1.32" fill="#bd2850" stroke="#2a0510" stroke-width="0.8"/><ellipse cx="480.00" cy="443.50" rx="1.5" ry="1.32" fill="#bd2850" stroke="#2a0510" stroke-width="0.8"/><ellipse cx="480.00" cy="447.00" rx="1.5" ry="1.32" fill="#bd2850" stroke="#2a0510" stroke-width="0.8"/><ellipse cx="480.00" cy="451.00" rx="1.5" ry="1.32" fill="#bd2850" stroke="#2a0510" stroke-width="0.8"/><ellipse cx="480.00" cy="453.50" rx="1.5" ry="1.32" fill="#bd2850" stroke="#2a0510" stroke-width="0.8"/><ellipse cx="499.70" cy="407.00" rx="1.5" ry="1.32" fill="#4d69a0" stroke="#0a1225" stroke-width="0.8"/><ellipse cx="499.70" cy="424.00" rx="1.5" ry="1.32" fill="#4d69a0" stroke="#0a1225" stroke-width="0.8"/><ellipse cx="499.70" cy="429.00" rx="1.5" ry="1.32" fill="#4d69a0" stroke="#0a1225" stroke-width="0.8"/><ellipse cx="499.70" cy="433.00" rx="1.5" ry="1.32" fill="#4d69a0" stroke="#0a1225" stroke-width="0.8"/><ellipse cx="499.70" cy="437.00" rx="1.5" ry="1.32" fill="#4d69a0" stroke="#0a1225" stroke-width="0.8"/><ellipse cx="499.70" cy="441.00" rx="1.5" ry="1.32" fill="#4d69a0" stroke="#0a1225" stroke-width="0.8"/><ellipse cx="499.70" cy="444.00" rx="1.5" ry="1.32" fill="#4d69a0" stroke="#0a1225" stroke-width="0.8"/><ellipse cx="499.70" cy="447.50" rx="1.5" ry="1.32" fill="#4d69a0" stroke="#0a1225" stroke-width="0.8"/><ellipse cx="499.70" cy="450.50" rx="1.5" ry="1.32" fill="#4d69a0" stroke="#0a1225" stroke-width="0.8"/><ellipse cx="499.70" cy="454.50" rx="1.5" ry="1.32" fill="#4d69a0" stroke="#0a1225" stroke-width="0.8"/><ellipse cx="499.70" cy="459.00" rx="1.5" ry="1.32" fill="#4d69a0" stroke="#0a1225" stroke-width="0.8"/><ellipse cx="499.70" cy="465.00" rx="1.5" ry="1.32" fill="#4d69a0" stroke="#0a1225" stroke-width="0.8"/><text x="499.20" y="403.10" font-size="7.8" text-anchor="middle" font-weight="normal" font-style="normal" fill="#222" stroke="#222" stroke-width="0.1"  >ab</text><line x1="53.40" y1="198.30" x2="248.60" y2="198.30" stroke="#151515" stroke-width="1.05" stroke-dasharray="2.1,2.0"/><line x1="313.20" y1="211.20" x2="513.00" y2="211.20" stroke="#151515" stroke-width="1.05" stroke-dasharray="2.1,2.0"/><line x1="53.20" y1="425.40" x2="248.50" y2="425.40" stroke="#151515" stroke-width="1.05" stroke-dasharray="2.1,2.0"/><line x1="314.10" y1="440.80" x2="511.20" y2="440.80" stroke="#151515" stroke-width="1.05" stroke-dasharray="2.1,2.0"/><rect x="53.40" y="37.40" width="66.60" height="91.50" fill="none" stroke="#333" stroke-width="1"/><rect x="120.00" y="37.40" width="66.50" height="91.50" fill="none" stroke="#333" stroke-width="1"/><rect x="186.50" y="37.40" width="62.10" height="91.50" fill="none" stroke="#333" stroke-width="1"/><rect x="53.40" y="137.30" width="66.60" height="91.70" fill="none" stroke="#333" stroke-width="1"/><rect x="120.00" y="137.30" width="66.50" height="91.70" fill="none" stroke="#333" stroke-width="1"/><rect x="186.50" y="137.30" width="62.10" height="91.70" fill="none" stroke="#333" stroke-width="1"/><line x1="81.80" y1="229.00" x2="81.80" y2="231.50" stroke="#333" stroke-width="0.9" /><line x1="149.70" y1="229.00" x2="149.70" y2="231.50" stroke="#333" stroke-width="0.9" /><line x1="217.50" y1="229.00" x2="217.50" y2="231.50" stroke="#333" stroke-width="0.9" /><line x1="83.50" y1="128.90" x2="83.50" y2="130.70" stroke="#333" stroke-width="0.9" /><line x1="150.40" y1="128.90" x2="150.40" y2="130.70" stroke="#333" stroke-width="0.9" /><line x1="217.20" y1="128.90" x2="217.20" y2="130.70" stroke="#333" stroke-width="0.9" /><text x="81.80" y="242.30" font-size="8.4" text-anchor="middle" font-weight="normal" font-style="normal" fill="#111" stroke="#111" stroke-width="0.18" textLength="21.0" lengthAdjust="spacingAndGlyphs" >Saline</text><text x="149.70" y="242.30" font-size="8.4" text-anchor="middle" font-weight="normal" font-style="normal" fill="#111" stroke="#111" stroke-width="0.18" textLength="24.3" lengthAdjust="spacingAndGlyphs" >ApoHb</text><text x="217.50" y="242.30" font-size="8.4" text-anchor="middle" font-weight="normal" font-style="normal" fill="#111" stroke="#111" stroke-width="0.18" textLength="37.4" lengthAdjust="spacingAndGlyphs" >ApoHb-Hp</text><rect x="313.20" y="37.50" width="67.30" height="91.50" fill="none" stroke="#333" stroke-width="1"/><rect x="380.50" y="37.50" width="66.80" height="91.50" fill="none" stroke="#333" stroke-width="1"/><rect x="447.30" y="37.50" width="65.70" height="91.50" fill="none" stroke="#333" stroke-width="1"/><rect x="313.20" y="137.30" width="67.30" height="91.70" fill="none" stroke="#333" stroke-width="1"/><rect x="380.50" y="137.30" width="66.80" height="91.70" fill="none" stroke="#333" stroke-width="1"/><rect x="447.30" y="137.30" width="65.70" height="91.70" fill="none" stroke="#333" stroke-width="1"/><line x1="347.00" y1="229.00" x2="347.00" y2="231.50" stroke="#333" stroke-width="0.9" /><line x1="414.00" y1="229.00" x2="414.00" y2="231.50" stroke="#333" stroke-width="0.9" /><line x1="480.80" y1="229.00" x2="480.80" y2="231.50" stroke="#333" stroke-width="0.9" /><line x1="345.40" y1="129.00" x2="345.40" y2="130.80" stroke="#333" stroke-width="0.9" /><line x1="412.90" y1="129.00" x2="412.90" y2="130.80" stroke="#333" stroke-width="0.9" /><line x1="480.80" y1="129.00" x2="480.80" y2="130.80" stroke="#333" stroke-width="0.9" /><text x="347.00" y="242.30" font-size="8.4" text-anchor="middle" font-weight="normal" font-style="normal" fill="#111" stroke="#111" stroke-width="0.18" textLength="21.0" lengthAdjust="spacingAndGlyphs" >Saline</text><text x="414.00" y="242.30" font-size="8.4" text-anchor="middle" font-weight="normal" font-style="normal" fill="#111" stroke="#111" stroke-width="0.18" textLength="24.3" lengthAdjust="spacingAndGlyphs" >ApoHb</text><text x="480.80" y="242.30" font-size="8.4" text-anchor="middle" font-weight="normal" font-style="normal" fill="#111" stroke="#111" stroke-width="0.18" textLength="37.4" lengthAdjust="spacingAndGlyphs" >ApoHb-Hp</text><rect x="53.20" y="278.60" width="64.70" height="91.70" fill="none" stroke="#333" stroke-width="1"/><rect x="117.90" y="278.60" width="69.00" height="91.70" fill="none" stroke="#333" stroke-width="1"/><rect x="186.90" y="278.60" width="61.60" height="91.70" fill="none" stroke="#333" stroke-width="1"/><rect x="53.20" y="378.60" width="64.70" height="91.40" fill="none" stroke="#333" stroke-width="1"/><rect x="117.90" y="378.60" width="69.00" height="91.40" fill="none" stroke="#333" stroke-width="1"/><rect x="186.90" y="378.60" width="61.60" height="91.40" fill="none" stroke="#333" stroke-width="1"/><line x1="84.50" y1="470.00" x2="84.50" y2="472.50" stroke="#333" stroke-width="0.9" /><line x1="151.00" y1="470.00" x2="151.00" y2="472.50" stroke="#333" stroke-width="0.9" /><line x1="216.80" y1="470.00" x2="216.80" y2="472.50" stroke="#333" stroke-width="0.9" /><line x1="84.50" y1="370.30" x2="84.50" y2="372.10" stroke="#333" stroke-width="0.9" /><line x1="151.00" y1="370.30" x2="151.00" y2="372.10" stroke="#333" stroke-width="0.9" /><line x1="217.40" y1="370.30" x2="217.40" y2="372.10" stroke="#333" stroke-width="0.9" /><text x="84.50" y="482.80" font-size="8.4" text-anchor="middle" font-weight="normal" font-style="normal" fill="#111" stroke="#111" stroke-width="0.18" textLength="21.0" lengthAdjust="spacingAndGlyphs" >Saline</text><text x="151.00" y="482.80" font-size="8.4" text-anchor="middle" font-weight="normal" font-style="normal" fill="#111" stroke="#111" stroke-width="0.18" textLength="24.3" lengthAdjust="spacingAndGlyphs" >ApoHb</text><text x="216.80" y="482.80" font-size="8.4" text-anchor="middle" font-weight="normal" font-style="normal" fill="#111" stroke="#111" stroke-width="0.18" textLength="37.4" lengthAdjust="spacingAndGlyphs" >ApoHb-Hp</text><rect x="314.10" y="278.70" width="63.80" height="91.60" fill="none" stroke="#333" stroke-width="1"/><rect x="377.90" y="278.70" width="69.50" height="91.60" fill="none" stroke="#333" stroke-width="1"/><rect x="447.40" y="278.70" width="63.80" height="91.60" fill="none" stroke="#333" stroke-width="1"/><rect x="314.10" y="378.60" width="63.80" height="91.40" fill="none" stroke="#333" stroke-width="1"/><rect x="377.90" y="378.60" width="69.50" height="91.40" fill="none" stroke="#333" stroke-width="1"/><rect x="447.40" y="378.60" width="63.80" height="91.40" fill="none" stroke="#333" stroke-width="1"/><line x1="345.50" y1="470.00" x2="345.50" y2="472.50" stroke="#333" stroke-width="0.9" /><line x1="412.20" y1="470.00" x2="412.20" y2="472.50" stroke="#333" stroke-width="0.9" /><line x1="479.60" y1="470.00" x2="479.60" y2="472.50" stroke="#333" stroke-width="0.9" /><line x1="345.40" y1="370.30" x2="345.40" y2="372.10" stroke="#333" stroke-width="0.9" /><line x1="412.40" y1="370.30" x2="412.40" y2="372.10" stroke="#333" stroke-width="0.9" /><line x1="479.60" y1="370.30" x2="479.60" y2="372.10" stroke="#333" stroke-width="0.9" /><text x="345.50" y="482.80" font-size="8.4" text-anchor="middle" font-weight="normal" font-style="normal" fill="#111" stroke="#111" stroke-width="0.18" textLength="21.0" lengthAdjust="spacingAndGlyphs" >Saline</text><text x="412.20" y="482.80" font-size="8.4" text-anchor="middle" font-weight="normal" font-style="normal" fill="#111" stroke="#111" stroke-width="0.18" textLength="24.3" lengthAdjust="spacingAndGlyphs" >ApoHb</text><text x="479.60" y="482.80" font-size="8.4" text-anchor="middle" font-weight="normal" font-style="normal" fill="#111" stroke="#111" stroke-width="0.18" textLength="37.4" lengthAdjust="spacingAndGlyphs" >ApoHb-Hp</text><line x1="50.40" y1="69.70" x2="53.40" y2="69.70" stroke="#333" stroke-width="0.9" /><text x="47.10" y="72.40" font-size="7.8" text-anchor="end" font-weight="normal" font-style="normal" fill="#111" stroke="#111" stroke-width="0.18"  >10</text><line x1="50.40" y1="103.90" x2="53.40" y2="103.90" stroke="#333" stroke-width="0.9" /><text x="47.10" y="106.60" font-size="7.8" text-anchor="end" font-weight="normal" font-style="normal" fill="#111" stroke="#111" stroke-width="0.18"  >5</text><line x1="50.40" y1="142.10" x2="53.40" y2="142.10" stroke="#333" stroke-width="0.9" /><text x="47.10" y="144.80" font-size="7.8" text-anchor="end" font-weight="normal" font-style="normal" fill="#111" stroke="#111" stroke-width="0.18"  >1.8</text><line x1="50.40" y1="162.80" x2="53.40" y2="162.80" stroke="#333" stroke-width="0.9" /><text x="47.10" y="165.50" font-size="7.8" text-anchor="end" font-weight="normal" font-style="normal" fill="#111" stroke="#111" stroke-width="0.18"  >1.5</text><line x1="50.40" y1="184.00" x2="53.40" y2="184.00" stroke="#333" stroke-width="0.9" /><text x="47.10" y="186.70" font-size="7.8" text-anchor="end" font-weight="normal" font-style="normal" fill="#111" stroke="#111" stroke-width="0.18"  >1.2</text><line x1="50.40" y1="205.00" x2="53.40" y2="205.00" stroke="#333" stroke-width="0.9" /><text x="47.10" y="207.70" font-size="7.8" text-anchor="end" font-weight="normal" font-style="normal" fill="#111" stroke="#111" stroke-width="0.18"  >0.9</text><line x1="50.40" y1="225.90" x2="53.40" y2="225.90" stroke="#333" stroke-width="0.9" /><text x="47.10" y="228.60" font-size="7.8" text-anchor="end" font-weight="normal" font-style="normal" fill="#111" stroke="#111" stroke-width="0.18"  >0.6</text><line x1="310.20" y1="40.50" x2="313.20" y2="40.50" stroke="#333" stroke-width="0.9" /><text x="306.90" y="43.20" font-size="7.8" text-anchor="end" font-weight="normal" font-style="normal" fill="#111" stroke="#111" stroke-width="0.18"  >8</text><line x1="310.20" y1="64.90" x2="313.20" y2="64.90" stroke="#333" stroke-width="0.9" /><text x="306.90" y="67.60" font-size="7.8" text-anchor="end" font-weight="normal" font-style="normal" fill="#111" stroke="#111" stroke-width="0.18"  >6</text><line x1="310.20" y1="89.30" x2="313.20" y2="89.30" stroke="#333" stroke-width="0.9" /><text x="306.90" y="92.00" font-size="7.8" text-anchor="end" font-weight="normal" font-style="normal" fill="#111" stroke="#111" stroke-width="0.18"  >4</text><line x1="310.20" y1="113.70" x2="313.20" y2="113.70" stroke="#333" stroke-width="0.9" /><text x="306.90" y="116.40" font-size="7.8" text-anchor="end" font-weight="normal" font-style="normal" fill="#111" stroke="#111" stroke-width="0.18"  >2</text><line x1="310.20" y1="139.20" x2="313.20" y2="139.20" stroke="#333" stroke-width="0.9" /><text x="306.90" y="141.90" font-size="7.8" text-anchor="end" font-weight="normal" font-style="normal" fill="#111" stroke="#111" stroke-width="0.18"  >3.0</text><line x1="310.20" y1="157.30" x2="313.20" y2="157.30" stroke="#333" stroke-width="0.9" /><text x="306.90" y="160.00" font-size="7.8" text-anchor="end" font-weight="normal" font-style="normal" fill="#111" stroke="#111" stroke-width="0.18"  >2.5</text><line x1="310.20" y1="175.20" x2="313.20" y2="175.20" stroke="#333" stroke-width="0.9" /><text x="306.90" y="177.90" font-size="7.8" text-anchor="end" font-weight="normal" font-style="normal" fill="#111" stroke="#111" stroke-width="0.18"  >2.0</text><line x1="310.20" y1="193.30" x2="313.20" y2="193.30" stroke="#333" stroke-width="0.9" /><text x="306.90" y="196.00" font-size="7.8" text-anchor="end" font-weight="normal" font-style="normal" fill="#111" stroke="#111" stroke-width="0.18"  >1.5</text><line x1="310.20" y1="211.10" x2="313.20" y2="211.10" stroke="#333" stroke-width="0.9" /><text x="306.90" y="213.80" font-size="7.8" text-anchor="end" font-weight="normal" font-style="normal" fill="#111" stroke="#111" stroke-width="0.18"  >1.0</text><line x1="50.20" y1="284.10" x2="53.20" y2="284.10" stroke="#333" stroke-width="0.9" /><text x="46.90" y="286.80" font-size="7.8" text-anchor="end" font-weight="normal" font-style="normal" fill="#111" stroke="#111" stroke-width="0.18"  >15.0</text><line x1="50.20" y1="305.50" x2="53.20" y2="305.50" stroke="#333" stroke-width="0.9" /><text x="46.90" y="308.20" font-size="7.8" text-anchor="end" font-weight="normal" font-style="normal" fill="#111" stroke="#111" stroke-width="0.18"  >12.5</text><line x1="50.20" y1="326.80" x2="53.20" y2="326.80" stroke="#333" stroke-width="0.9" /><text x="46.90" y="329.50" font-size="7.8" text-anchor="end" font-weight="normal" font-style="normal" fill="#111" stroke="#111" stroke-width="0.18"  >10.0</text><line x1="50.20" y1="348.20" x2="53.20" y2="348.20" stroke="#333" stroke-width="0.9" /><text x="46.90" y="350.90" font-size="7.8" text-anchor="end" font-weight="normal" font-style="normal" fill="#111" stroke="#111" stroke-width="0.18"  >7.5</text><line x1="50.20" y1="369.50" x2="53.20" y2="369.50" stroke="#333" stroke-width="0.9" /><text x="46.90" y="372.20" font-size="7.8" text-anchor="end" font-weight="normal" font-style="normal" fill="#111" stroke="#111" stroke-width="0.18"  >5.0</text><line x1="50.20" y1="382.30" x2="53.20" y2="382.30" stroke="#333" stroke-width="0.9" /><text x="46.90" y="385.00" font-size="7.8" text-anchor="end" font-weight="normal" font-style="normal" fill="#111" stroke="#111" stroke-width="0.18"  >1.4</text><line x1="50.20" y1="403.90" x2="53.20" y2="403.90" stroke="#333" stroke-width="0.9" /><text x="46.90" y="406.60" font-size="7.8" text-anchor="end" font-weight="normal" font-style="normal" fill="#111" stroke="#111" stroke-width="0.18"  >1.2</text><line x1="50.20" y1="425.50" x2="53.20" y2="425.50" stroke="#333" stroke-width="0.9" /><text x="46.90" y="428.20" font-size="7.8" text-anchor="end" font-weight="normal" font-style="normal" fill="#111" stroke="#111" stroke-width="0.18"  >1.0</text><line x1="50.20" y1="447.10" x2="53.20" y2="447.10" stroke="#333" stroke-width="0.9" /><text x="46.90" y="449.80" font-size="7.8" text-anchor="end" font-weight="normal" font-style="normal" fill="#111" stroke="#111" stroke-width="0.18"  >0.8</text><line x1="50.20" y1="468.60" x2="53.20" y2="468.60" stroke="#333" stroke-width="0.9" /><text x="46.90" y="471.30" font-size="7.8" text-anchor="end" font-weight="normal" font-style="normal" fill="#111" stroke="#111" stroke-width="0.18"  >0.6</text><line x1="311.10" y1="282.50" x2="314.10" y2="282.50" stroke="#333" stroke-width="0.9" /><text x="307.80" y="285.20" font-size="7.8" text-anchor="end" font-weight="normal" font-style="normal" fill="#111" stroke="#111" stroke-width="0.18"  >12.5</text><line x1="311.10" y1="300.70" x2="314.10" y2="300.70" stroke="#333" stroke-width="0.9" /><text x="307.80" y="303.40" font-size="7.8" text-anchor="end" font-weight="normal" font-style="normal" fill="#111" stroke="#111" stroke-width="0.18"  >10.0</text><line x1="311.10" y1="318.80" x2="314.10" y2="318.80" stroke="#333" stroke-width="0.9" /><text x="307.80" y="321.50" font-size="7.8" text-anchor="end" font-weight="normal" font-style="normal" fill="#111" stroke="#111" stroke-width="0.18"  >7.5</text><line x1="311.10" y1="336.90" x2="314.10" y2="336.90" stroke="#333" stroke-width="0.9" /><text x="307.80" y="339.60" font-size="7.8" text-anchor="end" font-weight="normal" font-style="normal" fill="#111" stroke="#111" stroke-width="0.18"  >5.0</text><line x1="311.10" y1="355.00" x2="314.10" y2="355.00" stroke="#333" stroke-width="0.9" /><text x="307.80" y="357.70" font-size="7.8" text-anchor="end" font-weight="normal" font-style="normal" fill="#111" stroke="#111" stroke-width="0.18"  >2.5</text><line x1="311.10" y1="392.70" x2="314.10" y2="392.70" stroke="#333" stroke-width="0.9" /><text x="307.80" y="395.40" font-size="7.8" text-anchor="end" font-weight="normal" font-style="normal" fill="#111" stroke="#111" stroke-width="0.18"  >2.0</text><line x1="311.10" y1="416.80" x2="314.10" y2="416.80" stroke="#333" stroke-width="0.9" /><text x="307.80" y="419.50" font-size="7.8" text-anchor="end" font-weight="normal" font-style="normal" fill="#111" stroke="#111" stroke-width="0.18"  >1.5</text><line x1="311.10" y1="440.90" x2="314.10" y2="440.90" stroke="#333" stroke-width="0.9" /><text x="307.80" y="443.60" font-size="7.8" text-anchor="end" font-weight="normal" font-style="normal" fill="#111" stroke="#111" stroke-width="0.18"  >1.0</text><line x1="311.10" y1="465.00" x2="314.10" y2="465.00" stroke="#333" stroke-width="0.9" /><text x="307.80" y="467.70" font-size="7.8" text-anchor="end" font-weight="normal" font-style="normal" fill="#111" stroke="#111" stroke-width="0.18"  >0.5</text><text transform="translate(21.10,83.00) rotate(-90)" x="0" y="0" font-size="9.5" text-anchor="middle" fill="#111" stroke="#111" stroke-width="0.42" textLength="39.0" lengthAdjust="spacingAndGlyphs">Arteriole fluid</text><text transform="translate(32.00,83.50) rotate(-90)" x="0" y="0" font-size="9.5" text-anchor="middle" fill="#111" stroke="#111" stroke-width="0.42" textLength="47.0" lengthAdjust="spacingAndGlyphs">velocity (mm/s)</text><text transform="translate(20.00,182.80) rotate(-90)" x="0" y="0" font-size="9.5" text-anchor="middle" fill="#111" stroke="#111" stroke-width="0.42" textLength="57.8" lengthAdjust="spacingAndGlyphs">Baseline normalized</text><text transform="translate(30.10,182.80) rotate(-90)" x="0" y="0" font-size="9.5" text-anchor="middle" fill="#111" stroke="#111" stroke-width="0.42" textLength="62.6" lengthAdjust="spacingAndGlyphs">arteriole fluid velocity</text><text transform="translate(287.20,83.30) rotate(-90)" x="0" y="0" font-size="9.5" text-anchor="middle" fill="#111" stroke="#111" stroke-width="0.42" textLength="34.0" lengthAdjust="spacingAndGlyphs">Venule fluid</text><text transform="translate(297.80,83.80) rotate(-90)" x="0" y="0" font-size="9.5" text-anchor="middle" fill="#111" stroke="#111" stroke-width="0.42" textLength="46.0" lengthAdjust="spacingAndGlyphs">velocity (mm/s)</text><text transform="translate(280.10,183.00) rotate(-90)" x="0" y="0" font-size="9.5" text-anchor="middle" fill="#111" stroke="#111" stroke-width="0.42" textLength="57.3" lengthAdjust="spacingAndGlyphs">Baseline normalized</text><text transform="translate(291.30,182.90) rotate(-90)" x="0" y="0" font-size="9.5" text-anchor="middle" fill="#111" stroke="#111" stroke-width="0.42" textLength="56.1" lengthAdjust="spacingAndGlyphs">venule fluid velocity</text><text transform="translate(14.50,324.20) rotate(-90)" x="0" y="0" font-size="9.5" text-anchor="middle" fill="#111" stroke="#111" stroke-width="0.42" textLength="39.9" lengthAdjust="spacingAndGlyphs">Arteriole fluid</text><text transform="translate(25.30,324.20) rotate(-90)" x="0" y="0" font-size="9.5" text-anchor="middle" fill="#111" stroke="#111" stroke-width="0.42" textLength="32.7" lengthAdjust="spacingAndGlyphs">flow (nL/s)</text><text transform="translate(18.90,423.70) rotate(-90)" x="0" y="0" font-size="9.5" text-anchor="middle" fill="#111" stroke="#111" stroke-width="0.42" textLength="57.7" lengthAdjust="spacingAndGlyphs">Baseline normalized</text><text transform="translate(30.10,423.60) rotate(-90)" x="0" y="0" font-size="9.5" text-anchor="middle" fill="#111" stroke="#111" stroke-width="0.42" textLength="52.8" lengthAdjust="spacingAndGlyphs">arteriole fluid flow</text><text transform="translate(275.80,324.90) rotate(-90)" x="0" y="0" font-size="9.5" text-anchor="middle" fill="#111" stroke="#111" stroke-width="0.42" textLength="34.1" lengthAdjust="spacingAndGlyphs">Venule fluid</text><text transform="translate(285.50,324.20) rotate(-90)" x="0" y="0" font-size="9.5" text-anchor="middle" fill="#111" stroke="#111" stroke-width="0.42" textLength="32.7" lengthAdjust="spacingAndGlyphs">flow (nL/s)</text><text transform="translate(280.20,424.30) rotate(-90)" x="0" y="0" font-size="9.5" text-anchor="middle" fill="#111" stroke="#111" stroke-width="0.42" textLength="57.4" lengthAdjust="spacingAndGlyphs">Baseline normalized</text><text transform="translate(290.70,424.40) rotate(-90)" x="0" y="0" font-size="9.5" text-anchor="middle" fill="#111" stroke="#111" stroke-width="0.42" textLength="48.0" lengthAdjust="spacingAndGlyphs">venule fluid flow</text><text x="13.50" y="26.90" font-size="11.6" text-anchor="start" font-weight="bold" font-style="normal" fill="#000" stroke="#000" stroke-width="0.65"  >A</text><text x="278.80" y="26.70" font-size="11.6" text-anchor="start" font-weight="bold" font-style="normal" fill="#000" stroke="#000" stroke-width="0.65"  >B</text><text x="7.00" y="263.20" font-size="11.6" text-anchor="start" font-weight="bold" font-style="normal" fill="#000" stroke="#000" stroke-width="0.65"  >C</text><text x="268.30" y="263.20" font-size="11.6" text-anchor="start" font-weight="bold" font-style="normal" fill="#000" stroke="#000" stroke-width="0.65"  >D</text><text x="59.20" y="33.60" font-size="8.2" text-anchor="start" font-weight="normal" font-style="italic" fill="#111" stroke="#111" stroke-width="0.18" textLength="28.5" lengthAdjust="spacingAndGlyphs" >Arteriole</text><text x="315.80" y="34.50" font-size="8.2" text-anchor="start" font-weight="normal" font-style="italic" fill="#111" stroke="#111" stroke-width="0.18" textLength="22.3" lengthAdjust="spacingAndGlyphs" >Venule</text><text x="57.30" y="275.40" font-size="8.2" text-anchor="start" font-weight="normal" font-style="italic" fill="#111" stroke="#111" stroke-width="0.18" textLength="28.5" lengthAdjust="spacingAndGlyphs" >Arteriole</text><text x="317.70" y="275.40" font-size="8.2" text-anchor="start" font-weight="normal" font-style="italic" fill="#111" stroke="#111" stroke-width="0.18" textLength="22.3" lengthAdjust="spacingAndGlyphs" >Venule</text><rect x="325.4" y="12.2" width="12.30" height="7.7" fill="#e2e2e2"/><line x1="325.40" y1="16.10" x2="337.70" y2="16.10" stroke="#555" stroke-width="1.2" /><circle cx="331.55" cy="16.1" r="1.5" fill="#e6e6e6" stroke="#2e2e2e" stroke-width="0.6"/><text x="341.00" y="18.90" font-size="8.0" text-anchor="start" font-weight="normal" font-style="normal" fill="#111" stroke="#111" stroke-width="0.18" textLength="29.0" lengthAdjust="spacingAndGlyphs" >Baseline</text><rect x="379.2" y="12.2" width="12.70" height="7.7" fill="#d97b93"/><line x1="379.20" y1="16.10" x2="391.90" y2="16.10" stroke="#222" stroke-width="1.2" /><circle cx="385.55" cy="16.1" r="1.5" fill="#bd2850" stroke="#2a0510" stroke-width="0.6"/><text x="395.00" y="13.60" font-size="8.0" text-anchor="start" font-weight="normal" font-style="normal" fill="#111" stroke="#111" stroke-width="0.18" textLength="38.5" lengthAdjust="spacingAndGlyphs" >Pre-PolyHb</text><text x="395.00" y="23.20" font-size="8.0" text-anchor="start" font-weight="normal" font-style="normal" fill="#111" stroke="#111" stroke-width="0.18" textLength="38.2" lengthAdjust="spacingAndGlyphs" >Transfusion</text><rect x="442.6" y="12.2" width="12.60" height="7.7" fill="#97a9c9"/><line x1="442.60" y1="16.10" x2="455.20" y2="16.10" stroke="#222" stroke-width="1.2" /><circle cx="448.90" cy="16.1" r="1.5" fill="#4d69a0" stroke="#0a1225" stroke-width="0.6"/><text x="458.50" y="13.60" font-size="8.0" text-anchor="start" font-weight="normal" font-style="normal" fill="#111" stroke="#111" stroke-width="0.18" textLength="42.3" lengthAdjust="spacingAndGlyphs" >Post-PolyHb</text><text x="458.50" y="23.20" font-size="8.0" text-anchor="start" font-weight="normal" font-style="normal" fill="#111" stroke="#111" stroke-width="0.18" textLength="38.0" lengthAdjust="spacingAndGlyphs" >Transfusion</text><rect x="0.5" y="0.5" width="519" height="491" fill="none" stroke="#000" stroke-width="1.2"/></svg>
</body></html>
